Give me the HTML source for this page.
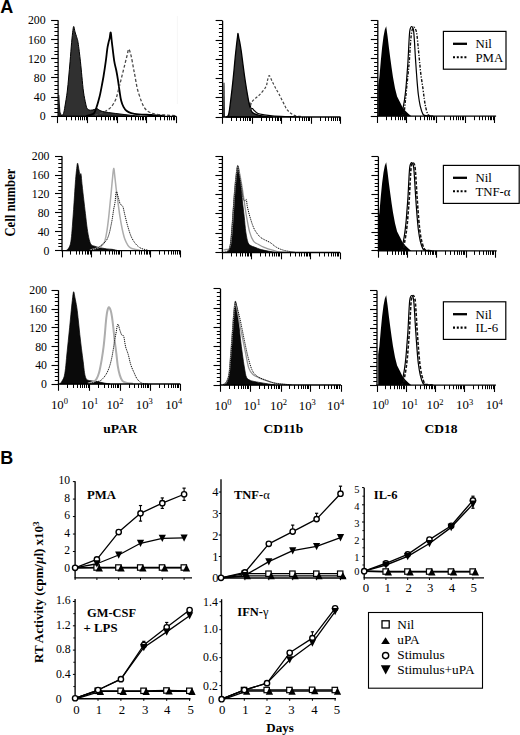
<!DOCTYPE html>
<html><head><meta charset="utf-8"><style>html,body{margin:0;padding:0;background:#fff;overflow:hidden}svg{display:block}</style></head>
<body><svg width="520" height="735" viewBox="0 0 520 735"><rect width="520" height="735" fill="#fff"/>
<text x="0.2" y="12.8" style="font-family:'Liberation Sans',sans-serif;font-size:18px;font-weight:bold" text-anchor="start" >A</text>
<text x="0.2" y="463.8" style="font-family:'Liberation Sans',sans-serif;font-size:18px;font-weight:bold" text-anchor="start" >B</text>
<text x="14.6" y="202.6" transform="rotate(-90 14.6 202.6)" style="font-family:'Liberation Serif',serif;font-size:14px;font-weight:bold" text-anchor="middle" textLength="68" lengthAdjust="spacingAndGlyphs">Cell number</text>
<line x1="177.4" y1="16" x2="177.4" y2="104" stroke="#f6f6f6" stroke-width="1" />
<polygon points="58.3,116.3 58.4,95 59.3,95 60.4,112 62,115.5 62,116.3" fill="#222"/>
<path d="M61,116.3 C61.42,115.83 62.83,115.22 63.5,113.5 C64.17,111.78 64.38,109.58 65,106 C65.62,102.42 66.58,96.83 67.2,92 C67.82,87.17 68.22,82.13 68.7,77 C69.18,71.87 69.62,66.92 70.1,61.2 C70.58,55.48 71.13,47.83 71.6,42.7 C72.07,37.57 72.53,33.1 72.9,30.4 C73.27,27.7 73.45,26.25 73.8,26.5 C74.15,26.75 74.55,30.23 75,31.9 C75.45,33.57 75.98,34.7 76.5,36.5 C77.02,38.3 77.45,38.58 78.1,42.7 C78.75,46.82 79.77,55.57 80.4,61.2 C81.03,66.83 81.38,71.37 81.9,76.5 C82.42,81.63 82.85,87.38 83.5,92 C84.15,96.62 85.17,101.4 85.8,104.2 C86.43,107 86.53,107.8 87.3,108.8 C88.07,109.8 89.28,110.07 90.4,110.2 C91.52,110.33 92.9,109.87 94,109.6 C95.1,109.33 96,108.43 97,108.6 C98,108.77 98.67,110.03 100,110.6 C101.33,111.17 103,111.6 105,112 C107,112.4 109.5,112.67 112,113 C114.5,113.33 117,113.63 120,114 C123,114.37 126.67,114.82 130,115.2 C133.33,115.58 138.33,116.12 140,116.3 Z" fill="#303030" stroke="#000" stroke-width="1.0" stroke-linejoin="round"/>
<path d="M86,115.8 C87.25,115.47 91.75,115.22 93.5,113.8 C95.25,112.38 95.48,110.18 96.5,107.3 C97.52,104.42 98.82,99.58 99.6,96.5 C100.38,93.42 100.55,92.13 101.2,88.8 C101.85,85.47 102.73,81.1 103.5,76.5 C104.27,71.9 105.17,65.82 105.8,61.2 C106.43,56.58 106.85,51.88 107.3,48.8 C107.75,45.72 108.12,44.42 108.5,42.7 C108.88,40.98 109.23,40.2 109.6,38.5 C109.97,36.8 110.32,31.87 110.7,32.5 C111.08,33.13 111.32,37.58 111.9,42.3 C112.48,47.02 113.43,55.93 114.2,60.8 C114.97,65.67 115.85,68.17 116.5,71.5 C117.15,74.83 117.58,77.47 118.1,80.8 C118.62,84.13 119.08,88.17 119.6,91.5 C120.12,94.83 120.55,98.23 121.2,100.8 C121.85,103.37 122.62,105.23 123.5,106.9 C124.38,108.57 125.22,109.77 126.5,110.8 C127.78,111.83 129.15,112.52 131.2,113.1 C133.25,113.68 135.47,113.98 138.8,114.3 C142.13,114.62 146.83,114.75 151.2,115 C155.57,115.25 162.7,115.67 165,115.8" fill="none" stroke="#000" stroke-width="1.8" stroke-linejoin="round" stroke-linecap="butt"/>
<path d="M95,115.5 C96.67,114.83 102.3,112.93 105,111.5 C107.7,110.07 109.4,108.95 111.2,106.9 C113,104.85 114.53,102.27 115.8,99.2 C117.07,96.13 117.78,92.33 118.8,88.5 C119.82,84.67 120.87,80.32 121.9,76.2 C122.93,72.08 124.1,67.4 125,63.8 C125.9,60.2 126.67,57.03 127.3,54.6 C127.93,52.17 128.15,48.93 128.8,49.2 C129.45,49.47 130.42,52.98 131.2,56.2 C131.98,59.42 132.87,65.17 133.5,68.5 C134.13,71.83 134.37,72.87 135,76.2 C135.63,79.53 136.27,84.4 137.3,88.5 C138.33,92.6 139.92,97.47 141.2,100.8 C142.48,104.13 143.6,106.58 145,108.5 C146.4,110.42 147.8,111.33 149.6,112.3 C151.4,113.27 152.98,113.83 155.8,114.3 C158.62,114.77 163.13,114.85 166.5,115.1 C169.87,115.35 174.42,115.68 176,115.8" fill="none" stroke="#4a4a4a" stroke-width="1.3" stroke-dasharray="3 2" stroke-linejoin="round" stroke-linecap="butt"/>
<line x1="58.1" y1="20.3" x2="58.1" y2="116.9" stroke="#000" stroke-width="1.3" />
<line x1="51.1" y1="116.5" x2="58.1" y2="116.5" stroke="#000" stroke-width="1.1" />
<line x1="54.4" y1="112.5" x2="58.1" y2="112.5" stroke="#000" stroke-width="1.0" />
<line x1="54.4" y1="108.5" x2="58.1" y2="108.5" stroke="#000" stroke-width="1.0" />
<line x1="54.4" y1="104.5" x2="58.1" y2="104.5" stroke="#000" stroke-width="1.0" />
<line x1="54.4" y1="100.5" x2="58.1" y2="100.5" stroke="#000" stroke-width="1.0" />
<line x1="51.1" y1="97.5" x2="58.1" y2="97.5" stroke="#000" stroke-width="1.1" />
<line x1="54.4" y1="93.5" x2="58.1" y2="93.5" stroke="#000" stroke-width="1.0" />
<line x1="54.4" y1="89.5" x2="58.1" y2="89.5" stroke="#000" stroke-width="1.0" />
<line x1="54.4" y1="85.5" x2="58.1" y2="85.5" stroke="#000" stroke-width="1.0" />
<line x1="54.4" y1="81.5" x2="58.1" y2="81.5" stroke="#000" stroke-width="1.0" />
<line x1="51.1" y1="77.5" x2="58.1" y2="77.5" stroke="#000" stroke-width="1.1" />
<line x1="54.4" y1="74.5" x2="58.1" y2="74.5" stroke="#000" stroke-width="1.0" />
<line x1="54.4" y1="70.5" x2="58.1" y2="70.5" stroke="#000" stroke-width="1.0" />
<line x1="54.4" y1="66.5" x2="58.1" y2="66.5" stroke="#000" stroke-width="1.0" />
<line x1="54.4" y1="62.5" x2="58.1" y2="62.5" stroke="#000" stroke-width="1.0" />
<line x1="51.1" y1="58.5" x2="58.1" y2="58.5" stroke="#000" stroke-width="1.1" />
<line x1="54.4" y1="54.5" x2="58.1" y2="54.5" stroke="#000" stroke-width="1.0" />
<line x1="54.4" y1="51.5" x2="58.1" y2="51.5" stroke="#000" stroke-width="1.0" />
<line x1="54.4" y1="47.5" x2="58.1" y2="47.5" stroke="#000" stroke-width="1.0" />
<line x1="54.4" y1="43.5" x2="58.1" y2="43.5" stroke="#000" stroke-width="1.0" />
<line x1="51.1" y1="39.5" x2="58.1" y2="39.5" stroke="#000" stroke-width="1.1" />
<line x1="54.4" y1="35.5" x2="58.1" y2="35.5" stroke="#000" stroke-width="1.0" />
<line x1="54.4" y1="31.5" x2="58.1" y2="31.5" stroke="#000" stroke-width="1.0" />
<line x1="54.4" y1="27.5" x2="58.1" y2="27.5" stroke="#000" stroke-width="1.0" />
<line x1="54.4" y1="24.5" x2="58.1" y2="24.5" stroke="#000" stroke-width="1.0" />
<line x1="51.1" y1="20.5" x2="58.1" y2="20.5" stroke="#000" stroke-width="1.1" />
<text x="45.6" y="120.4" style="font-family:'Liberation Serif',serif;font-size:11.8px;font-weight:normal" text-anchor="end" >0</text>
<text x="45.6" y="101.2" style="font-family:'Liberation Serif',serif;font-size:11.8px;font-weight:normal" text-anchor="end" >40</text>
<text x="45.6" y="82" style="font-family:'Liberation Serif',serif;font-size:11.8px;font-weight:normal" text-anchor="end" >80</text>
<text x="45.6" y="62.8" style="font-family:'Liberation Serif',serif;font-size:11.8px;font-weight:normal" text-anchor="end" >120</text>
<text x="45.6" y="43.6" style="font-family:'Liberation Serif',serif;font-size:11.8px;font-weight:normal" text-anchor="end" >160</text>
<text x="45.6" y="24.4" style="font-family:'Liberation Serif',serif;font-size:11.8px;font-weight:normal" text-anchor="end" >200</text>
<line x1="57.5" y1="116.3" x2="176.3" y2="116.3" stroke="#000" stroke-width="1.3" />
<line x1="57.5" y1="116.3" x2="57.5" y2="123.1" stroke="#000" stroke-width="1.1" />
<line x1="66.5" y1="116.3" x2="66.5" y2="120.3" stroke="#000" stroke-width="1.0" />
<line x1="71.5" y1="116.3" x2="71.5" y2="120.3" stroke="#000" stroke-width="1.0" />
<line x1="75.5" y1="116.3" x2="75.5" y2="120.3" stroke="#000" stroke-width="1.0" />
<line x1="78.5" y1="116.3" x2="78.5" y2="120.3" stroke="#000" stroke-width="1.0" />
<line x1="80.5" y1="116.3" x2="80.5" y2="120.3" stroke="#000" stroke-width="1.0" />
<line x1="82.5" y1="116.3" x2="82.5" y2="120.3" stroke="#000" stroke-width="1.0" />
<line x1="84.5" y1="116.3" x2="84.5" y2="120.3" stroke="#000" stroke-width="1.0" />
<line x1="86.5" y1="116.3" x2="86.5" y2="120.3" stroke="#000" stroke-width="1.0" />
<line x1="87.5" y1="116.3" x2="87.5" y2="123.1" stroke="#000" stroke-width="1.1" />
<line x1="96.5" y1="116.3" x2="96.5" y2="120.3" stroke="#000" stroke-width="1.0" />
<line x1="101.5" y1="116.3" x2="101.5" y2="120.3" stroke="#000" stroke-width="1.0" />
<line x1="105.5" y1="116.3" x2="105.5" y2="120.3" stroke="#000" stroke-width="1.0" />
<line x1="108.5" y1="116.3" x2="108.5" y2="120.3" stroke="#000" stroke-width="1.0" />
<line x1="110.5" y1="116.3" x2="110.5" y2="120.3" stroke="#000" stroke-width="1.0" />
<line x1="113.5" y1="116.3" x2="113.5" y2="120.3" stroke="#000" stroke-width="1.0" />
<line x1="114.5" y1="116.3" x2="114.5" y2="120.3" stroke="#000" stroke-width="1.0" />
<line x1="116.5" y1="116.3" x2="116.5" y2="120.3" stroke="#000" stroke-width="1.0" />
<line x1="117.5" y1="116.3" x2="117.5" y2="123.1" stroke="#000" stroke-width="1.1" />
<line x1="126.5" y1="116.3" x2="126.5" y2="120.3" stroke="#000" stroke-width="1.0" />
<line x1="131.5" y1="116.3" x2="131.5" y2="120.3" stroke="#000" stroke-width="1.0" />
<line x1="135.5" y1="116.3" x2="135.5" y2="120.3" stroke="#000" stroke-width="1.0" />
<line x1="138.5" y1="116.3" x2="138.5" y2="120.3" stroke="#000" stroke-width="1.0" />
<line x1="140.5" y1="116.3" x2="140.5" y2="120.3" stroke="#000" stroke-width="1.0" />
<line x1="142.5" y1="116.3" x2="142.5" y2="120.3" stroke="#000" stroke-width="1.0" />
<line x1="143.5" y1="116.3" x2="143.5" y2="120.3" stroke="#000" stroke-width="1.0" />
<line x1="145.5" y1="116.3" x2="145.5" y2="120.3" stroke="#000" stroke-width="1.0" />
<line x1="146.5" y1="116.3" x2="146.5" y2="123.1" stroke="#000" stroke-width="1.1" />
<line x1="155.5" y1="116.3" x2="155.5" y2="120.3" stroke="#000" stroke-width="1.0" />
<line x1="160.5" y1="116.3" x2="160.5" y2="120.3" stroke="#000" stroke-width="1.0" />
<line x1="164.5" y1="116.3" x2="164.5" y2="120.3" stroke="#000" stroke-width="1.0" />
<line x1="167.5" y1="116.3" x2="167.5" y2="120.3" stroke="#000" stroke-width="1.0" />
<line x1="169.5" y1="116.3" x2="169.5" y2="120.3" stroke="#000" stroke-width="1.0" />
<line x1="171.5" y1="116.3" x2="171.5" y2="120.3" stroke="#000" stroke-width="1.0" />
<line x1="173.5" y1="116.3" x2="173.5" y2="120.3" stroke="#000" stroke-width="1.0" />
<line x1="174.5" y1="116.3" x2="174.5" y2="120.3" stroke="#000" stroke-width="1.0" />
<line x1="176.5" y1="116.3" x2="176.5" y2="123.1" stroke="#000" stroke-width="1.1" />
<polygon points="223.2,117 223.5,82.8 224.5,82.8 224.9,117" fill="#111"/>
<path d="M226,117 C226.38,116.73 227.7,116.73 228.3,115.4 C228.9,114.07 229.12,112.22 229.6,109 C230.08,105.78 230.68,100.42 231.2,96.1 C231.72,91.78 232.23,87.42 232.7,83.1 C233.17,78.78 233.58,74.5 234,70.2 C234.42,65.9 234.77,61.6 235.2,57.3 C235.63,53 236.22,47.78 236.6,44.4 C236.98,41.02 237.27,38.83 237.5,37 C237.73,35.17 237.78,33.23 238,33.4 C238.22,33.57 238.52,36.6 238.8,38 C239.08,39.4 239.3,39.67 239.7,41.8 C240.1,43.93 240.67,47.13 241.2,50.8 C241.73,54.47 242.33,59.48 242.9,63.8 C243.47,68.12 243.98,72.4 244.6,76.7 C245.22,81 245.88,85.3 246.6,89.6 C247.32,93.9 248.25,99.27 248.9,102.5 C249.55,105.73 249.83,107.27 250.5,109 C251.17,110.73 251.43,111.83 252.9,112.9 C254.37,113.97 256.95,114.77 259.3,115.4 C261.65,116.03 264.88,116.43 267,116.7 C269.12,116.97 271.17,116.95 272,117 Z" fill="#333" stroke="#000" stroke-width="1.3" stroke-linejoin="round"/>
<path d="M249.7,102.5 C249.92,103.52 250.53,107.58 251,108.6 C251.47,109.62 251.92,108.23 252.5,108.6 C253.08,108.97 253.58,109.98 254.5,110.8 C255.42,111.62 256.42,112.83 258,113.5 C259.58,114.17 261.67,114.42 264,114.8 C266.33,115.18 268.5,115.52 272,115.8 C275.5,116.08 280.33,116.3 285,116.5 C289.67,116.7 297.5,116.92 300,117" fill="none" stroke="#000" stroke-width="1.2" stroke-linejoin="round" stroke-linecap="butt"/>
<path d="M250,110 C250.2,108.88 250.43,105.15 251.2,103.3 C251.97,101.45 253.17,100.35 254.6,98.9 C256.03,97.45 257.92,96.62 259.8,94.6 C261.68,92.58 264.6,89.23 265.9,86.8 C267.2,84.37 267.03,81.87 267.6,80 C268.17,78.13 268.58,75.47 269.3,75.6 C270.02,75.73 270.88,78.78 271.9,80.8 C272.92,82.82 274.25,85.55 275.4,87.7 C276.55,89.85 277.5,91.25 278.8,93.7 C280.1,96.15 281.75,99.65 283.2,102.4 C284.65,105.15 285.63,108.03 287.5,110.2 C289.37,112.37 291.98,114.33 294.4,115.4 C296.82,116.47 300.73,116.4 302,116.6" fill="none" stroke="#444" stroke-width="1.2" stroke-dasharray="2.6 1.8" stroke-linejoin="round" stroke-linecap="butt"/>
<line x1="222.6" y1="20.8" x2="222.6" y2="117.6" stroke="#000" stroke-width="1.3" />
<line x1="215.6" y1="117.5" x2="222.6" y2="117.5" stroke="#000" stroke-width="1.1" />
<line x1="218.9" y1="113.5" x2="222.6" y2="113.5" stroke="#000" stroke-width="1.0" />
<line x1="218.9" y1="109.5" x2="222.6" y2="109.5" stroke="#000" stroke-width="1.0" />
<line x1="218.9" y1="105.5" x2="222.6" y2="105.5" stroke="#000" stroke-width="1.0" />
<line x1="218.9" y1="101.5" x2="222.6" y2="101.5" stroke="#000" stroke-width="1.0" />
<line x1="215.6" y1="97.5" x2="222.6" y2="97.5" stroke="#000" stroke-width="1.1" />
<line x1="218.9" y1="93.5" x2="222.6" y2="93.5" stroke="#000" stroke-width="1.0" />
<line x1="218.9" y1="90.5" x2="222.6" y2="90.5" stroke="#000" stroke-width="1.0" />
<line x1="218.9" y1="86.5" x2="222.6" y2="86.5" stroke="#000" stroke-width="1.0" />
<line x1="218.9" y1="82.5" x2="222.6" y2="82.5" stroke="#000" stroke-width="1.0" />
<line x1="215.6" y1="78.5" x2="222.6" y2="78.5" stroke="#000" stroke-width="1.1" />
<line x1="218.9" y1="74.5" x2="222.6" y2="74.5" stroke="#000" stroke-width="1.0" />
<line x1="218.9" y1="70.5" x2="222.6" y2="70.5" stroke="#000" stroke-width="1.0" />
<line x1="218.9" y1="66.5" x2="222.6" y2="66.5" stroke="#000" stroke-width="1.0" />
<line x1="218.9" y1="63.5" x2="222.6" y2="63.5" stroke="#000" stroke-width="1.0" />
<line x1="215.6" y1="59.5" x2="222.6" y2="59.5" stroke="#000" stroke-width="1.1" />
<line x1="218.9" y1="55.5" x2="222.6" y2="55.5" stroke="#000" stroke-width="1.0" />
<line x1="218.9" y1="51.5" x2="222.6" y2="51.5" stroke="#000" stroke-width="1.0" />
<line x1="218.9" y1="47.5" x2="222.6" y2="47.5" stroke="#000" stroke-width="1.0" />
<line x1="218.9" y1="43.5" x2="222.6" y2="43.5" stroke="#000" stroke-width="1.0" />
<line x1="215.6" y1="40.5" x2="222.6" y2="40.5" stroke="#000" stroke-width="1.1" />
<line x1="218.9" y1="36.5" x2="222.6" y2="36.5" stroke="#000" stroke-width="1.0" />
<line x1="218.9" y1="32.5" x2="222.6" y2="32.5" stroke="#000" stroke-width="1.0" />
<line x1="218.9" y1="28.5" x2="222.6" y2="28.5" stroke="#000" stroke-width="1.0" />
<line x1="218.9" y1="24.5" x2="222.6" y2="24.5" stroke="#000" stroke-width="1.0" />
<line x1="215.6" y1="20.5" x2="222.6" y2="20.5" stroke="#000" stroke-width="1.1" />
<line x1="222" y1="117" x2="340.5" y2="117" stroke="#000" stroke-width="1.3" />
<line x1="222.5" y1="117" x2="222.5" y2="123.8" stroke="#000" stroke-width="1.1" />
<line x1="231.5" y1="117" x2="231.5" y2="121" stroke="#000" stroke-width="1.0" />
<line x1="236.5" y1="117" x2="236.5" y2="121" stroke="#000" stroke-width="1.0" />
<line x1="240.5" y1="117" x2="240.5" y2="121" stroke="#000" stroke-width="1.0" />
<line x1="243.5" y1="117" x2="243.5" y2="121" stroke="#000" stroke-width="1.0" />
<line x1="245.5" y1="117" x2="245.5" y2="121" stroke="#000" stroke-width="1.0" />
<line x1="247.5" y1="117" x2="247.5" y2="121" stroke="#000" stroke-width="1.0" />
<line x1="249.5" y1="117" x2="249.5" y2="121" stroke="#000" stroke-width="1.0" />
<line x1="250.5" y1="117" x2="250.5" y2="121" stroke="#000" stroke-width="1.0" />
<line x1="252.5" y1="117" x2="252.5" y2="123.8" stroke="#000" stroke-width="1.1" />
<line x1="261.5" y1="117" x2="261.5" y2="121" stroke="#000" stroke-width="1.0" />
<line x1="266.5" y1="117" x2="266.5" y2="121" stroke="#000" stroke-width="1.0" />
<line x1="269.5" y1="117" x2="269.5" y2="121" stroke="#000" stroke-width="1.0" />
<line x1="272.5" y1="117" x2="272.5" y2="121" stroke="#000" stroke-width="1.0" />
<line x1="275.5" y1="117" x2="275.5" y2="121" stroke="#000" stroke-width="1.0" />
<line x1="277.5" y1="117" x2="277.5" y2="121" stroke="#000" stroke-width="1.0" />
<line x1="278.5" y1="117" x2="278.5" y2="121" stroke="#000" stroke-width="1.0" />
<line x1="280.5" y1="117" x2="280.5" y2="121" stroke="#000" stroke-width="1.0" />
<line x1="281.5" y1="117" x2="281.5" y2="123.8" stroke="#000" stroke-width="1.1" />
<line x1="290.5" y1="117" x2="290.5" y2="121" stroke="#000" stroke-width="1.0" />
<line x1="295.5" y1="117" x2="295.5" y2="121" stroke="#000" stroke-width="1.0" />
<line x1="299.5" y1="117" x2="299.5" y2="121" stroke="#000" stroke-width="1.0" />
<line x1="302.5" y1="117" x2="302.5" y2="121" stroke="#000" stroke-width="1.0" />
<line x1="304.5" y1="117" x2="304.5" y2="121" stroke="#000" stroke-width="1.0" />
<line x1="306.5" y1="117" x2="306.5" y2="121" stroke="#000" stroke-width="1.0" />
<line x1="308.5" y1="117" x2="308.5" y2="121" stroke="#000" stroke-width="1.0" />
<line x1="309.5" y1="117" x2="309.5" y2="121" stroke="#000" stroke-width="1.0" />
<line x1="311.5" y1="117" x2="311.5" y2="123.8" stroke="#000" stroke-width="1.1" />
<line x1="320.5" y1="117" x2="320.5" y2="121" stroke="#000" stroke-width="1.0" />
<line x1="325.5" y1="117" x2="325.5" y2="121" stroke="#000" stroke-width="1.0" />
<line x1="328.5" y1="117" x2="328.5" y2="121" stroke="#000" stroke-width="1.0" />
<line x1="331.5" y1="117" x2="331.5" y2="121" stroke="#000" stroke-width="1.0" />
<line x1="333.5" y1="117" x2="333.5" y2="121" stroke="#000" stroke-width="1.0" />
<line x1="335.5" y1="117" x2="335.5" y2="121" stroke="#000" stroke-width="1.0" />
<line x1="337.5" y1="117" x2="337.5" y2="121" stroke="#000" stroke-width="1.0" />
<line x1="339.5" y1="117" x2="339.5" y2="121" stroke="#000" stroke-width="1.0" />
<line x1="340.5" y1="117" x2="340.5" y2="123.8" stroke="#000" stroke-width="1.1" />
<polygon points="378.2,116.2 378.2,85.5 379.4,77.3 380.8,61 382.1,47.4 383.5,36.5 384.8,29.7 386.2,26.3 387.6,36.5 388.9,47.4 390.3,58.3 391.6,67.8 393,77.3 395,88.2 397.1,96.4 399.8,101.8 402.5,107.3 405.3,110.7 408.7,114.1 411.4,116.2" fill="#000"/>
<path d="M399,116.2 C399.48,115.85 401.2,115.58 401.9,114.1 C402.6,112.62 402.75,109.8 403.2,107.3 C403.65,104.8 404.15,102.28 404.6,99.1 C405.05,95.92 405.5,92.28 405.9,88.2 C406.3,84.12 406.65,79.13 407,74.6 C407.35,70.07 407.72,65.53 408,61 C408.28,56.47 408.48,51.48 408.7,47.4 C408.92,43.32 409.08,39.45 409.3,36.5 C409.52,33.55 409.62,31.37 410,29.7 C410.38,28.03 411.03,26.5 411.6,26.5 C412.17,26.5 412.93,27.35 413.4,29.7 C413.87,32.05 414.1,36.52 414.4,40.6 C414.7,44.68 414.92,49.67 415.2,54.2 C415.48,58.73 415.78,63.27 416.1,67.8 C416.42,72.33 416.72,76.87 417.1,81.4 C417.48,85.93 417.88,90.92 418.4,95 C418.92,99.08 419.45,102.72 420.2,105.9 C420.95,109.08 421.98,112.48 422.9,114.1 C423.82,115.72 424.18,115.25 425.7,115.6 C427.22,115.95 430.95,116.1 432,116.2" fill="none" stroke="#000" stroke-width="1.2" stroke-linejoin="round" stroke-linecap="butt"/>
<path d="M401,116.2 C401.48,115.62 403.18,115.1 403.9,112.7 C404.62,110.3 404.85,105.88 405.3,101.8 C405.75,97.72 406.15,92.73 406.6,88.2 C407.05,83.67 407.55,79.13 408,74.6 C408.45,70.07 408.85,66.67 409.3,61 C409.75,55.33 410.25,45.65 410.7,40.6 C411.15,35.55 411.48,32.93 412,30.7 C412.52,28.47 413.22,27.45 413.8,27.2 C414.38,26.95 415,28.1 415.5,29.2 C416,30.3 416.35,30.77 416.8,33.8 C417.25,36.83 417.75,42.87 418.2,47.4 C418.65,51.93 419.05,56.47 419.5,61 C419.95,65.53 420.33,70.07 420.9,74.6 C421.47,79.13 422.33,84.12 422.9,88.2 C423.47,92.28 423.83,95.92 424.3,99.1 C424.77,102.28 425.13,104.8 425.7,107.3 C426.27,109.8 427.03,112.72 427.7,114.1 C428.37,115.48 428.65,115.25 429.7,115.6 C430.75,115.95 433.28,116.1 434,116.2" fill="none" stroke="#111" stroke-width="1.4" stroke-dasharray="3 1.5 1.2 1.5" stroke-linejoin="round" stroke-linecap="butt"/>
<line x1="377.8" y1="20.2" x2="377.8" y2="116.8" stroke="#000" stroke-width="1.3" />
<line x1="370.8" y1="116.5" x2="377.8" y2="116.5" stroke="#000" stroke-width="1.1" />
<line x1="374.1" y1="112.5" x2="377.8" y2="112.5" stroke="#000" stroke-width="1.0" />
<line x1="374.1" y1="108.5" x2="377.8" y2="108.5" stroke="#000" stroke-width="1.0" />
<line x1="374.1" y1="104.5" x2="377.8" y2="104.5" stroke="#000" stroke-width="1.0" />
<line x1="374.1" y1="100.5" x2="377.8" y2="100.5" stroke="#000" stroke-width="1.0" />
<line x1="370.8" y1="97.5" x2="377.8" y2="97.5" stroke="#000" stroke-width="1.1" />
<line x1="374.1" y1="93.5" x2="377.8" y2="93.5" stroke="#000" stroke-width="1.0" />
<line x1="374.1" y1="89.5" x2="377.8" y2="89.5" stroke="#000" stroke-width="1.0" />
<line x1="374.1" y1="85.5" x2="377.8" y2="85.5" stroke="#000" stroke-width="1.0" />
<line x1="374.1" y1="81.5" x2="377.8" y2="81.5" stroke="#000" stroke-width="1.0" />
<line x1="370.8" y1="77.5" x2="377.8" y2="77.5" stroke="#000" stroke-width="1.1" />
<line x1="374.1" y1="73.5" x2="377.8" y2="73.5" stroke="#000" stroke-width="1.0" />
<line x1="374.1" y1="70.5" x2="377.8" y2="70.5" stroke="#000" stroke-width="1.0" />
<line x1="374.1" y1="66.5" x2="377.8" y2="66.5" stroke="#000" stroke-width="1.0" />
<line x1="374.1" y1="62.5" x2="377.8" y2="62.5" stroke="#000" stroke-width="1.0" />
<line x1="370.8" y1="58.5" x2="377.8" y2="58.5" stroke="#000" stroke-width="1.1" />
<line x1="374.1" y1="54.5" x2="377.8" y2="54.5" stroke="#000" stroke-width="1.0" />
<line x1="374.1" y1="50.5" x2="377.8" y2="50.5" stroke="#000" stroke-width="1.0" />
<line x1="374.1" y1="47.5" x2="377.8" y2="47.5" stroke="#000" stroke-width="1.0" />
<line x1="374.1" y1="43.5" x2="377.8" y2="43.5" stroke="#000" stroke-width="1.0" />
<line x1="370.8" y1="39.5" x2="377.8" y2="39.5" stroke="#000" stroke-width="1.1" />
<line x1="374.1" y1="35.5" x2="377.8" y2="35.5" stroke="#000" stroke-width="1.0" />
<line x1="374.1" y1="31.5" x2="377.8" y2="31.5" stroke="#000" stroke-width="1.0" />
<line x1="374.1" y1="27.5" x2="377.8" y2="27.5" stroke="#000" stroke-width="1.0" />
<line x1="374.1" y1="24.5" x2="377.8" y2="24.5" stroke="#000" stroke-width="1.0" />
<line x1="370.8" y1="20.5" x2="377.8" y2="20.5" stroke="#000" stroke-width="1.1" />
<line x1="377.2" y1="116.2" x2="496.1" y2="116.2" stroke="#000" stroke-width="1.3" />
<line x1="377.5" y1="116.2" x2="377.5" y2="123" stroke="#000" stroke-width="1.1" />
<line x1="386.5" y1="116.2" x2="386.5" y2="120.2" stroke="#000" stroke-width="1.0" />
<line x1="391.5" y1="116.2" x2="391.5" y2="120.2" stroke="#000" stroke-width="1.0" />
<line x1="395.5" y1="116.2" x2="395.5" y2="120.2" stroke="#000" stroke-width="1.0" />
<line x1="398.5" y1="116.2" x2="398.5" y2="120.2" stroke="#000" stroke-width="1.0" />
<line x1="400.5" y1="116.2" x2="400.5" y2="120.2" stroke="#000" stroke-width="1.0" />
<line x1="402.5" y1="116.2" x2="402.5" y2="120.2" stroke="#000" stroke-width="1.0" />
<line x1="404.5" y1="116.2" x2="404.5" y2="120.2" stroke="#000" stroke-width="1.0" />
<line x1="405.5" y1="116.2" x2="405.5" y2="120.2" stroke="#000" stroke-width="1.0" />
<line x1="406.5" y1="116.2" x2="406.5" y2="123" stroke="#000" stroke-width="1.1" />
<line x1="415.5" y1="116.2" x2="415.5" y2="120.2" stroke="#000" stroke-width="1.0" />
<line x1="420.5" y1="116.2" x2="420.5" y2="120.2" stroke="#000" stroke-width="1.0" />
<line x1="424.5" y1="116.2" x2="424.5" y2="120.2" stroke="#000" stroke-width="1.0" />
<line x1="427.5" y1="116.2" x2="427.5" y2="120.2" stroke="#000" stroke-width="1.0" />
<line x1="429.5" y1="116.2" x2="429.5" y2="120.2" stroke="#000" stroke-width="1.0" />
<line x1="431.5" y1="116.2" x2="431.5" y2="120.2" stroke="#000" stroke-width="1.0" />
<line x1="433.5" y1="116.2" x2="433.5" y2="120.2" stroke="#000" stroke-width="1.0" />
<line x1="434.5" y1="116.2" x2="434.5" y2="120.2" stroke="#000" stroke-width="1.0" />
<line x1="436.5" y1="116.2" x2="436.5" y2="123" stroke="#000" stroke-width="1.1" />
<line x1="444.5" y1="116.2" x2="444.5" y2="120.2" stroke="#000" stroke-width="1.0" />
<line x1="450.5" y1="116.2" x2="450.5" y2="120.2" stroke="#000" stroke-width="1.0" />
<line x1="453.5" y1="116.2" x2="453.5" y2="120.2" stroke="#000" stroke-width="1.0" />
<line x1="456.5" y1="116.2" x2="456.5" y2="120.2" stroke="#000" stroke-width="1.0" />
<line x1="458.5" y1="116.2" x2="458.5" y2="120.2" stroke="#000" stroke-width="1.0" />
<line x1="460.5" y1="116.2" x2="460.5" y2="120.2" stroke="#000" stroke-width="1.0" />
<line x1="462.5" y1="116.2" x2="462.5" y2="120.2" stroke="#000" stroke-width="1.0" />
<line x1="463.5" y1="116.2" x2="463.5" y2="120.2" stroke="#000" stroke-width="1.0" />
<line x1="465.5" y1="116.2" x2="465.5" y2="123" stroke="#000" stroke-width="1.1" />
<line x1="474.5" y1="116.2" x2="474.5" y2="120.2" stroke="#000" stroke-width="1.0" />
<line x1="479.5" y1="116.2" x2="479.5" y2="120.2" stroke="#000" stroke-width="1.0" />
<line x1="482.5" y1="116.2" x2="482.5" y2="120.2" stroke="#000" stroke-width="1.0" />
<line x1="485.5" y1="116.2" x2="485.5" y2="120.2" stroke="#000" stroke-width="1.0" />
<line x1="488.5" y1="116.2" x2="488.5" y2="120.2" stroke="#000" stroke-width="1.0" />
<line x1="490.5" y1="116.2" x2="490.5" y2="120.2" stroke="#000" stroke-width="1.0" />
<line x1="491.5" y1="116.2" x2="491.5" y2="120.2" stroke="#000" stroke-width="1.0" />
<line x1="493.5" y1="116.2" x2="493.5" y2="120.2" stroke="#000" stroke-width="1.0" />
<line x1="494.5" y1="116.2" x2="494.5" y2="123" stroke="#000" stroke-width="1.1" />
<rect x="443.4" y="31.4" width="62.6" height="37.8" fill="#fff" stroke="#000" stroke-width="1.2"/>
<line x1="453" y1="43.8" x2="467" y2="43.8" stroke="#000" stroke-width="2.3" />
<line x1="453" y1="57.2" x2="467" y2="57.2" stroke="#000" stroke-width="2.1" stroke-dasharray="2 1.8"/>
<text x="475.4" y="48.3" style="font-family:'Liberation Serif',serif;font-size:12.8px;font-weight:normal" text-anchor="start" >Nil</text>
<text x="475.4" y="61.7" style="font-family:'Liberation Serif',serif;font-size:12.8px;font-weight:normal" text-anchor="start" >PMA</text>
<path d="M66,250.6 C66.35,250.32 67.4,249.87 68.1,248.9 C68.8,247.93 69.63,246.85 70.2,244.8 C70.77,242.75 71.1,240.23 71.5,236.6 C71.9,232.97 72.25,227.53 72.6,223 C72.95,218.47 73.28,213.93 73.6,209.4 C73.92,204.87 74.17,200.78 74.5,195.8 C74.83,190.82 75.23,184.03 75.6,179.5 C75.97,174.97 76.37,171.32 76.7,168.6 C77.03,165.88 77.22,162.97 77.6,163.2 C77.98,163.43 78.6,167.97 79,170 C79.4,172.03 79.67,174.73 80,175.4 C80.33,176.07 80.65,172.42 81,174 C81.35,175.58 81.63,180.58 82.1,184.9 C82.57,189.22 83.25,195.13 83.8,199.9 C84.35,204.67 84.83,208.73 85.4,213.5 C85.97,218.27 86.57,224.18 87.2,228.5 C87.83,232.82 88.52,236.68 89.2,239.4 C89.88,242.12 90.38,243.67 91.3,244.8 C92.22,245.93 93.47,245.75 94.7,246.2 C95.93,246.65 97.35,247.17 98.7,247.5 C100.05,247.83 101.43,247.97 102.8,248.2 C104.17,248.43 105.37,248.72 106.9,248.9 C108.43,249.08 110.15,249.02 112,249.3 C113.85,249.58 117,250.38 118,250.6 Z" fill="#0c0c0c" stroke="#000" stroke-width="0.7" stroke-linejoin="round"/>
<path d="M90,250.3 C91.27,249.9 95.68,248.63 97.6,247.9 C99.52,247.17 100.32,246.98 101.5,245.9 C102.68,244.82 103.8,243.87 104.7,241.4 C105.6,238.93 106.25,234.98 106.9,231.1 C107.55,227.22 108.1,222.42 108.6,218.1 C109.1,213.78 109.47,209.5 109.9,205.2 C110.33,200.9 110.78,196.6 111.2,192.3 C111.62,188 111.98,183.38 112.4,179.4 C112.82,175.42 113.27,168.62 113.7,168.4 C114.13,168.18 114.57,174.55 115,178.1 C115.43,181.65 115.8,185.62 116.3,189.7 C116.8,193.78 117.42,198.28 118,202.6 C118.58,206.92 119.12,211.28 119.8,215.6 C120.48,219.92 121.28,224.63 122.1,228.5 C122.92,232.37 123.73,236 124.7,238.8 C125.67,241.6 126.93,243.78 127.9,245.3 C128.87,246.82 129.52,247.27 130.5,247.9 C131.48,248.53 132.22,248.7 133.8,249.1 C135.38,249.5 138.97,250.1 140,250.3" fill="none" stroke="#adadad" stroke-width="1.5" stroke-linejoin="round" stroke-linecap="butt"/>
<path d="M90,250.3 C91.27,249.9 95.47,248.95 97.6,247.9 C99.73,246.85 101.3,245.3 102.8,244 C104.3,242.7 105.53,241.83 106.6,240.1 C107.67,238.37 108.43,236.18 109.2,233.6 C109.97,231.02 110.67,227.18 111.2,224.6 C111.73,222.02 111.98,220.68 112.4,218.1 C112.82,215.52 113.27,211.68 113.7,209.1 C114.13,206.52 114.57,205.5 115,202.6 C115.43,199.7 115.75,192.55 116.3,191.7 C116.85,190.85 117.65,195.47 118.3,197.5 C118.95,199.53 119.45,202.4 120.2,203.9 C120.95,205.4 122.05,204.77 122.8,206.5 C123.55,208.23 123.95,211.28 124.7,214.3 C125.45,217.32 126.33,221.17 127.3,224.6 C128.27,228.03 129.42,232.1 130.5,234.9 C131.58,237.7 132.62,239.57 133.8,241.4 C134.98,243.23 136.32,244.72 137.6,245.9 C138.88,247.08 139.77,247.78 141.5,248.5 C143.23,249.22 146.92,249.92 148,250.2" fill="none" stroke="#111" stroke-width="1.0" stroke-dasharray="1.2 0.8" stroke-linejoin="round" stroke-linecap="butt"/>
<line x1="62" y1="156.2" x2="62" y2="251.2" stroke="#000" stroke-width="1.3" />
<line x1="55" y1="250.5" x2="62" y2="250.5" stroke="#000" stroke-width="1.1" />
<line x1="58.3" y1="246.5" x2="62" y2="246.5" stroke="#000" stroke-width="1.0" />
<line x1="58.3" y1="243.5" x2="62" y2="243.5" stroke="#000" stroke-width="1.0" />
<line x1="58.3" y1="239.5" x2="62" y2="239.5" stroke="#000" stroke-width="1.0" />
<line x1="58.3" y1="235.5" x2="62" y2="235.5" stroke="#000" stroke-width="1.0" />
<line x1="55" y1="231.5" x2="62" y2="231.5" stroke="#000" stroke-width="1.1" />
<line x1="58.3" y1="227.5" x2="62" y2="227.5" stroke="#000" stroke-width="1.0" />
<line x1="58.3" y1="224.5" x2="62" y2="224.5" stroke="#000" stroke-width="1.0" />
<line x1="58.3" y1="220.5" x2="62" y2="220.5" stroke="#000" stroke-width="1.0" />
<line x1="58.3" y1="216.5" x2="62" y2="216.5" stroke="#000" stroke-width="1.0" />
<line x1="55" y1="212.5" x2="62" y2="212.5" stroke="#000" stroke-width="1.1" />
<line x1="58.3" y1="209.5" x2="62" y2="209.5" stroke="#000" stroke-width="1.0" />
<line x1="58.3" y1="205.5" x2="62" y2="205.5" stroke="#000" stroke-width="1.0" />
<line x1="58.3" y1="201.5" x2="62" y2="201.5" stroke="#000" stroke-width="1.0" />
<line x1="58.3" y1="197.5" x2="62" y2="197.5" stroke="#000" stroke-width="1.0" />
<line x1="55" y1="193.5" x2="62" y2="193.5" stroke="#000" stroke-width="1.1" />
<line x1="58.3" y1="190.5" x2="62" y2="190.5" stroke="#000" stroke-width="1.0" />
<line x1="58.3" y1="186.5" x2="62" y2="186.5" stroke="#000" stroke-width="1.0" />
<line x1="58.3" y1="182.5" x2="62" y2="182.5" stroke="#000" stroke-width="1.0" />
<line x1="58.3" y1="178.5" x2="62" y2="178.5" stroke="#000" stroke-width="1.0" />
<line x1="55" y1="175.5" x2="62" y2="175.5" stroke="#000" stroke-width="1.1" />
<line x1="58.3" y1="171.5" x2="62" y2="171.5" stroke="#000" stroke-width="1.0" />
<line x1="58.3" y1="167.5" x2="62" y2="167.5" stroke="#000" stroke-width="1.0" />
<line x1="58.3" y1="163.5" x2="62" y2="163.5" stroke="#000" stroke-width="1.0" />
<line x1="58.3" y1="159.5" x2="62" y2="159.5" stroke="#000" stroke-width="1.0" />
<line x1="55" y1="156.5" x2="62" y2="156.5" stroke="#000" stroke-width="1.1" />
<text x="49.5" y="254.7" style="font-family:'Liberation Serif',serif;font-size:11.8px;font-weight:normal" text-anchor="end" >0</text>
<text x="49.5" y="235.82" style="font-family:'Liberation Serif',serif;font-size:11.8px;font-weight:normal" text-anchor="end" >40</text>
<text x="49.5" y="216.94" style="font-family:'Liberation Serif',serif;font-size:11.8px;font-weight:normal" text-anchor="end" >80</text>
<text x="49.5" y="198.06" style="font-family:'Liberation Serif',serif;font-size:11.8px;font-weight:normal" text-anchor="end" >120</text>
<text x="49.5" y="179.18" style="font-family:'Liberation Serif',serif;font-size:11.8px;font-weight:normal" text-anchor="end" >160</text>
<text x="49.5" y="160.3" style="font-family:'Liberation Serif',serif;font-size:11.8px;font-weight:normal" text-anchor="end" >200</text>
<line x1="61.4" y1="250.6" x2="180.4" y2="250.6" stroke="#000" stroke-width="1.3" />
<line x1="62.5" y1="250.6" x2="62.5" y2="257.4" stroke="#000" stroke-width="1.1" />
<line x1="70.5" y1="250.6" x2="70.5" y2="254.6" stroke="#000" stroke-width="1.0" />
<line x1="76.5" y1="250.6" x2="76.5" y2="254.6" stroke="#000" stroke-width="1.0" />
<line x1="79.5" y1="250.6" x2="79.5" y2="254.6" stroke="#000" stroke-width="1.0" />
<line x1="82.5" y1="250.6" x2="82.5" y2="254.6" stroke="#000" stroke-width="1.0" />
<line x1="85.5" y1="250.6" x2="85.5" y2="254.6" stroke="#000" stroke-width="1.0" />
<line x1="87.5" y1="250.6" x2="87.5" y2="254.6" stroke="#000" stroke-width="1.0" />
<line x1="88.5" y1="250.6" x2="88.5" y2="254.6" stroke="#000" stroke-width="1.0" />
<line x1="90.5" y1="250.6" x2="90.5" y2="254.6" stroke="#000" stroke-width="1.0" />
<line x1="91.5" y1="250.6" x2="91.5" y2="257.4" stroke="#000" stroke-width="1.1" />
<line x1="100.5" y1="250.6" x2="100.5" y2="254.6" stroke="#000" stroke-width="1.0" />
<line x1="105.5" y1="250.6" x2="105.5" y2="254.6" stroke="#000" stroke-width="1.0" />
<line x1="109.5" y1="250.6" x2="109.5" y2="254.6" stroke="#000" stroke-width="1.0" />
<line x1="112.5" y1="250.6" x2="112.5" y2="254.6" stroke="#000" stroke-width="1.0" />
<line x1="114.5" y1="250.6" x2="114.5" y2="254.6" stroke="#000" stroke-width="1.0" />
<line x1="116.5" y1="250.6" x2="116.5" y2="254.6" stroke="#000" stroke-width="1.0" />
<line x1="118.5" y1="250.6" x2="118.5" y2="254.6" stroke="#000" stroke-width="1.0" />
<line x1="119.5" y1="250.6" x2="119.5" y2="254.6" stroke="#000" stroke-width="1.0" />
<line x1="121.5" y1="250.6" x2="121.5" y2="257.4" stroke="#000" stroke-width="1.1" />
<line x1="130.5" y1="250.6" x2="130.5" y2="254.6" stroke="#000" stroke-width="1.0" />
<line x1="135.5" y1="250.6" x2="135.5" y2="254.6" stroke="#000" stroke-width="1.0" />
<line x1="139.5" y1="250.6" x2="139.5" y2="254.6" stroke="#000" stroke-width="1.0" />
<line x1="141.5" y1="250.6" x2="141.5" y2="254.6" stroke="#000" stroke-width="1.0" />
<line x1="144.5" y1="250.6" x2="144.5" y2="254.6" stroke="#000" stroke-width="1.0" />
<line x1="146.5" y1="250.6" x2="146.5" y2="254.6" stroke="#000" stroke-width="1.0" />
<line x1="147.5" y1="250.6" x2="147.5" y2="254.6" stroke="#000" stroke-width="1.0" />
<line x1="149.5" y1="250.6" x2="149.5" y2="254.6" stroke="#000" stroke-width="1.0" />
<line x1="150.5" y1="250.6" x2="150.5" y2="257.4" stroke="#000" stroke-width="1.1" />
<line x1="159.5" y1="250.6" x2="159.5" y2="254.6" stroke="#000" stroke-width="1.0" />
<line x1="164.5" y1="250.6" x2="164.5" y2="254.6" stroke="#000" stroke-width="1.0" />
<line x1="168.5" y1="250.6" x2="168.5" y2="254.6" stroke="#000" stroke-width="1.0" />
<line x1="171.5" y1="250.6" x2="171.5" y2="254.6" stroke="#000" stroke-width="1.0" />
<line x1="173.5" y1="250.6" x2="173.5" y2="254.6" stroke="#000" stroke-width="1.0" />
<line x1="175.5" y1="250.6" x2="175.5" y2="254.6" stroke="#000" stroke-width="1.0" />
<line x1="177.5" y1="250.6" x2="177.5" y2="254.6" stroke="#000" stroke-width="1.0" />
<line x1="179.5" y1="250.6" x2="179.5" y2="254.6" stroke="#000" stroke-width="1.0" />
<line x1="180.5" y1="250.6" x2="180.5" y2="257.4" stroke="#000" stroke-width="1.1" />
<path d="M226,252.5 C226.47,252.15 228.07,251.78 228.8,250.4 C229.53,249.02 229.93,247.28 230.4,244.2 C230.87,241.12 231.22,236.52 231.6,231.9 C231.98,227.28 232.33,221.62 232.7,216.5 C233.07,211.38 233.42,206.32 233.8,201.2 C234.18,196.08 234.55,190.68 235,185.8 C235.45,180.92 236.03,175.28 236.5,171.9 C236.97,168.52 237.33,165.5 237.8,165.5 C238.27,165.5 238.8,168.52 239.3,171.9 C239.8,175.28 240.28,180.92 240.8,185.8 C241.32,190.68 241.83,196.08 242.4,201.2 C242.97,206.32 243.63,211.38 244.2,216.5 C244.77,221.62 245.15,227.53 245.8,231.9 C246.45,236.27 247.2,240.38 248.1,242.7 C249,245.02 250.05,245.03 251.2,245.8 C252.35,246.57 253.33,246.67 255,247.3 C256.67,247.93 258.9,248.95 261.2,249.6 C263.5,250.25 266.33,250.72 268.8,251.2 C271.27,251.68 274.8,252.28 276,252.5 Z" fill="#0a0a0a" stroke="#000" stroke-width="0.7" stroke-linejoin="round"/>
<path d="M223.5,250 C223.92,249.92 225.08,249.67 226,249.5 C226.92,249.33 228.23,249.92 229,249 C229.77,248.08 230.12,246.85 230.6,244 C231.08,241.15 231.5,236.48 231.9,231.9 C232.3,227.32 232.65,221.62 233,216.5 C233.35,211.38 233.63,206.32 234,201.2 C234.37,196.08 234.77,190.58 235.2,185.8 C235.63,181.02 236.18,175.63 236.6,172.5 C237.02,169.37 237.22,166.92 237.7,167 C238.18,167.08 238.8,169.87 239.5,173 C240.2,176.13 241.12,181.1 241.9,185.8 C242.68,190.5 243.43,196.08 244.2,201.2 C244.97,206.32 245.6,211.38 246.5,216.5 C247.4,221.62 248.43,227.78 249.6,231.9 C250.77,236.02 252.08,239.15 253.5,241.2 C254.92,243.25 256.32,243.18 258.1,244.2 C259.88,245.22 261.63,246.27 264.2,247.3 C266.77,248.33 270.93,249.63 273.5,250.4 C276.07,251.17 276.85,251.57 279.6,251.9 C282.35,252.23 288.27,252.32 290,252.4" fill="none" stroke="#9a9a9a" stroke-width="1.3" stroke-linejoin="round" stroke-linecap="butt"/>
<path d="M225,252.3 C225.63,251.92 227.88,251.38 228.8,250 C229.72,248.62 230,247.02 230.5,244 C231,240.98 231.4,236.48 231.8,231.9 C232.2,227.32 232.53,221.62 232.9,216.5 C233.27,211.38 233.6,206.32 234,201.2 C234.4,196.08 234.85,190.5 235.3,185.8 C235.75,181.1 236.28,176.22 236.7,173 C237.12,169.78 237.38,166.28 237.8,166.5 C238.22,166.72 238.67,171.42 239.2,174.3 C239.73,177.18 240.52,180.95 241,183.8 C241.48,186.65 241.73,188.87 242.1,191.4 C242.47,193.93 242.75,197.43 243.2,199 C243.65,200.57 244.28,200.72 244.8,200.8 C245.32,200.88 245.9,198.68 246.3,199.5 C246.7,200.32 246.8,203.55 247.2,205.7 C247.6,207.85 248.13,210.18 248.7,212.4 C249.27,214.62 249.97,216.93 250.6,219 C251.23,221.07 251.77,222.9 252.5,224.8 C253.23,226.7 253.82,228.45 255,230.4 C256.18,232.35 258.07,234.97 259.6,236.5 C261.13,238.03 262.4,238.57 264.2,239.6 C266,240.63 268.35,241.42 270.4,242.7 C272.45,243.98 274.2,246.02 276.5,247.3 C278.8,248.58 281.12,249.57 284.2,250.4 C287.28,251.23 293.2,251.98 295,252.3" fill="none" stroke="#111" stroke-width="1.0" stroke-dasharray="1.2 0.8" stroke-linejoin="round" stroke-linecap="butt"/>
<line x1="222.4" y1="156" x2="222.4" y2="253.1" stroke="#000" stroke-width="1.3" />
<line x1="215.4" y1="252.5" x2="222.4" y2="252.5" stroke="#000" stroke-width="1.1" />
<line x1="218.7" y1="248.5" x2="222.4" y2="248.5" stroke="#000" stroke-width="1.0" />
<line x1="218.7" y1="244.5" x2="222.4" y2="244.5" stroke="#000" stroke-width="1.0" />
<line x1="218.7" y1="240.5" x2="222.4" y2="240.5" stroke="#000" stroke-width="1.0" />
<line x1="218.7" y1="237.5" x2="222.4" y2="237.5" stroke="#000" stroke-width="1.0" />
<line x1="215.4" y1="233.5" x2="222.4" y2="233.5" stroke="#000" stroke-width="1.1" />
<line x1="218.7" y1="229.5" x2="222.4" y2="229.5" stroke="#000" stroke-width="1.0" />
<line x1="218.7" y1="225.5" x2="222.4" y2="225.5" stroke="#000" stroke-width="1.0" />
<line x1="218.7" y1="221.5" x2="222.4" y2="221.5" stroke="#000" stroke-width="1.0" />
<line x1="218.7" y1="217.5" x2="222.4" y2="217.5" stroke="#000" stroke-width="1.0" />
<line x1="215.4" y1="213.5" x2="222.4" y2="213.5" stroke="#000" stroke-width="1.1" />
<line x1="218.7" y1="210.5" x2="222.4" y2="210.5" stroke="#000" stroke-width="1.0" />
<line x1="218.7" y1="206.5" x2="222.4" y2="206.5" stroke="#000" stroke-width="1.0" />
<line x1="218.7" y1="202.5" x2="222.4" y2="202.5" stroke="#000" stroke-width="1.0" />
<line x1="218.7" y1="198.5" x2="222.4" y2="198.5" stroke="#000" stroke-width="1.0" />
<line x1="215.4" y1="194.5" x2="222.4" y2="194.5" stroke="#000" stroke-width="1.1" />
<line x1="218.7" y1="190.5" x2="222.4" y2="190.5" stroke="#000" stroke-width="1.0" />
<line x1="218.7" y1="186.5" x2="222.4" y2="186.5" stroke="#000" stroke-width="1.0" />
<line x1="218.7" y1="183.5" x2="222.4" y2="183.5" stroke="#000" stroke-width="1.0" />
<line x1="218.7" y1="179.5" x2="222.4" y2="179.5" stroke="#000" stroke-width="1.0" />
<line x1="215.4" y1="175.5" x2="222.4" y2="175.5" stroke="#000" stroke-width="1.1" />
<line x1="218.7" y1="171.5" x2="222.4" y2="171.5" stroke="#000" stroke-width="1.0" />
<line x1="218.7" y1="167.5" x2="222.4" y2="167.5" stroke="#000" stroke-width="1.0" />
<line x1="218.7" y1="163.5" x2="222.4" y2="163.5" stroke="#000" stroke-width="1.0" />
<line x1="218.7" y1="159.5" x2="222.4" y2="159.5" stroke="#000" stroke-width="1.0" />
<line x1="215.4" y1="156.5" x2="222.4" y2="156.5" stroke="#000" stroke-width="1.1" />
<line x1="221.8" y1="252.5" x2="340" y2="252.5" stroke="#000" stroke-width="1.3" />
<line x1="222.5" y1="252.5" x2="222.5" y2="259.3" stroke="#000" stroke-width="1.1" />
<line x1="231.5" y1="252.5" x2="231.5" y2="256.5" stroke="#000" stroke-width="1.0" />
<line x1="236.5" y1="252.5" x2="236.5" y2="256.5" stroke="#000" stroke-width="1.0" />
<line x1="240.5" y1="252.5" x2="240.5" y2="256.5" stroke="#000" stroke-width="1.0" />
<line x1="242.5" y1="252.5" x2="242.5" y2="256.5" stroke="#000" stroke-width="1.0" />
<line x1="245.5" y1="252.5" x2="245.5" y2="256.5" stroke="#000" stroke-width="1.0" />
<line x1="247.5" y1="252.5" x2="247.5" y2="256.5" stroke="#000" stroke-width="1.0" />
<line x1="248.5" y1="252.5" x2="248.5" y2="256.5" stroke="#000" stroke-width="1.0" />
<line x1="250.5" y1="252.5" x2="250.5" y2="256.5" stroke="#000" stroke-width="1.0" />
<line x1="251.5" y1="252.5" x2="251.5" y2="259.3" stroke="#000" stroke-width="1.1" />
<line x1="260.5" y1="252.5" x2="260.5" y2="256.5" stroke="#000" stroke-width="1.0" />
<line x1="265.5" y1="252.5" x2="265.5" y2="256.5" stroke="#000" stroke-width="1.0" />
<line x1="269.5" y1="252.5" x2="269.5" y2="256.5" stroke="#000" stroke-width="1.0" />
<line x1="272.5" y1="252.5" x2="272.5" y2="256.5" stroke="#000" stroke-width="1.0" />
<line x1="274.5" y1="252.5" x2="274.5" y2="256.5" stroke="#000" stroke-width="1.0" />
<line x1="276.5" y1="252.5" x2="276.5" y2="256.5" stroke="#000" stroke-width="1.0" />
<line x1="278.5" y1="252.5" x2="278.5" y2="256.5" stroke="#000" stroke-width="1.0" />
<line x1="279.5" y1="252.5" x2="279.5" y2="256.5" stroke="#000" stroke-width="1.0" />
<line x1="281.5" y1="252.5" x2="281.5" y2="259.3" stroke="#000" stroke-width="1.1" />
<line x1="290.5" y1="252.5" x2="290.5" y2="256.5" stroke="#000" stroke-width="1.0" />
<line x1="295.5" y1="252.5" x2="295.5" y2="256.5" stroke="#000" stroke-width="1.0" />
<line x1="299.5" y1="252.5" x2="299.5" y2="256.5" stroke="#000" stroke-width="1.0" />
<line x1="301.5" y1="252.5" x2="301.5" y2="256.5" stroke="#000" stroke-width="1.0" />
<line x1="304.5" y1="252.5" x2="304.5" y2="256.5" stroke="#000" stroke-width="1.0" />
<line x1="306.5" y1="252.5" x2="306.5" y2="256.5" stroke="#000" stroke-width="1.0" />
<line x1="307.5" y1="252.5" x2="307.5" y2="256.5" stroke="#000" stroke-width="1.0" />
<line x1="309.5" y1="252.5" x2="309.5" y2="256.5" stroke="#000" stroke-width="1.0" />
<line x1="310.5" y1="252.5" x2="310.5" y2="259.3" stroke="#000" stroke-width="1.1" />
<line x1="319.5" y1="252.5" x2="319.5" y2="256.5" stroke="#000" stroke-width="1.0" />
<line x1="324.5" y1="252.5" x2="324.5" y2="256.5" stroke="#000" stroke-width="1.0" />
<line x1="328.5" y1="252.5" x2="328.5" y2="256.5" stroke="#000" stroke-width="1.0" />
<line x1="331.5" y1="252.5" x2="331.5" y2="256.5" stroke="#000" stroke-width="1.0" />
<line x1="333.5" y1="252.5" x2="333.5" y2="256.5" stroke="#000" stroke-width="1.0" />
<line x1="335.5" y1="252.5" x2="335.5" y2="256.5" stroke="#000" stroke-width="1.0" />
<line x1="337.5" y1="252.5" x2="337.5" y2="256.5" stroke="#000" stroke-width="1.0" />
<line x1="338.5" y1="252.5" x2="338.5" y2="256.5" stroke="#000" stroke-width="1.0" />
<line x1="340.5" y1="252.5" x2="340.5" y2="259.3" stroke="#000" stroke-width="1.1" />
<polygon points="378.2,250.9 378.2,220.66 379.4,212.58 380.8,196.53 382.1,183.13 383.5,172.4 384.8,165.7 386.2,162.35 387.6,172.4 388.9,183.13 390.3,193.87 391.6,203.23 393,212.58 395,223.32 397.1,231.4 399.8,236.72 402.5,242.13 405.3,245.48 408.7,248.83 411.4,250.9" fill="#000"/>
<path d="M399,250.9 C399.48,250.56 401.2,250.29 401.9,248.83 C402.6,247.37 402.75,244.6 403.2,242.13 C403.65,239.67 404.15,237.19 404.6,234.06 C405.05,230.92 405.5,227.34 405.9,223.32 C406.3,219.3 406.65,214.39 407,209.92 C407.35,205.46 407.72,200.99 408,196.53 C408.28,192.06 408.48,187.15 408.7,183.13 C408.92,179.11 409.08,175.3 409.3,172.4 C409.52,169.49 409.62,167.34 410,165.7 C410.38,164.06 411.03,162.55 411.6,162.55 C412.17,162.55 412.93,163.38 413.4,165.7 C413.87,168.01 414.1,172.41 414.4,176.43 C414.7,180.46 414.92,185.36 415.2,189.83 C415.48,194.3 415.78,198.76 416.1,203.23 C416.42,207.69 416.72,212.16 417.1,216.62 C417.48,221.09 417.88,226 418.4,230.02 C418.92,234.04 419.45,237.62 420.2,240.75 C420.95,243.89 421.98,247.24 422.9,248.83 C423.82,250.42 424.18,249.96 425.7,250.31 C427.22,250.65 430.95,250.8 432,250.9" fill="none" stroke="#000" stroke-width="1.2" stroke-linejoin="round" stroke-linecap="butt"/>
<path d="M400.4,250.9 C400.88,250.56 402.6,250.29 403.3,248.83 C404,247.37 404.15,244.6 404.6,242.13 C405.05,239.67 405.55,237.19 406,234.06 C406.45,230.92 406.9,227.34 407.3,223.32 C407.7,219.3 408.05,214.39 408.4,209.92 C408.75,205.46 409.12,200.99 409.4,196.53 C409.68,192.06 409.88,187.15 410.1,183.13 C410.32,179.11 410.48,175.3 410.7,172.4 C410.92,169.49 411.02,167.34 411.4,165.7 C411.78,164.06 412.43,162.55 413,162.55 C413.57,162.55 414.33,163.38 414.8,165.7 C415.27,168.01 415.5,172.41 415.8,176.43 C416.1,180.46 416.32,185.36 416.6,189.83 C416.88,194.3 417.18,198.76 417.5,203.23 C417.82,207.69 418.12,212.16 418.5,216.62 C418.88,221.09 419.28,226 419.8,230.02 C420.32,234.04 420.85,237.62 421.6,240.75 C422.35,243.89 423.38,247.24 424.3,248.83 C425.22,250.42 425.58,249.96 427.1,250.31 C428.62,250.65 432.35,250.8 433.4,250.9" fill="none" stroke="#111" stroke-width="1.6" stroke-dasharray="3.2 1.6" stroke-linejoin="round" stroke-linecap="butt"/>
<line x1="378.4" y1="156.7" x2="378.4" y2="251.5" stroke="#000" stroke-width="1.3" />
<line x1="371.4" y1="250.5" x2="378.4" y2="250.5" stroke="#000" stroke-width="1.1" />
<line x1="374.7" y1="247.5" x2="378.4" y2="247.5" stroke="#000" stroke-width="1.0" />
<line x1="374.7" y1="243.5" x2="378.4" y2="243.5" stroke="#000" stroke-width="1.0" />
<line x1="374.7" y1="239.5" x2="378.4" y2="239.5" stroke="#000" stroke-width="1.0" />
<line x1="374.7" y1="235.5" x2="378.4" y2="235.5" stroke="#000" stroke-width="1.0" />
<line x1="371.4" y1="232.5" x2="378.4" y2="232.5" stroke="#000" stroke-width="1.1" />
<line x1="374.7" y1="228.5" x2="378.4" y2="228.5" stroke="#000" stroke-width="1.0" />
<line x1="374.7" y1="224.5" x2="378.4" y2="224.5" stroke="#000" stroke-width="1.0" />
<line x1="374.7" y1="220.5" x2="378.4" y2="220.5" stroke="#000" stroke-width="1.0" />
<line x1="374.7" y1="216.5" x2="378.4" y2="216.5" stroke="#000" stroke-width="1.0" />
<line x1="371.4" y1="213.5" x2="378.4" y2="213.5" stroke="#000" stroke-width="1.1" />
<line x1="374.7" y1="209.5" x2="378.4" y2="209.5" stroke="#000" stroke-width="1.0" />
<line x1="374.7" y1="205.5" x2="378.4" y2="205.5" stroke="#000" stroke-width="1.0" />
<line x1="374.7" y1="201.5" x2="378.4" y2="201.5" stroke="#000" stroke-width="1.0" />
<line x1="374.7" y1="198.5" x2="378.4" y2="198.5" stroke="#000" stroke-width="1.0" />
<line x1="371.4" y1="194.5" x2="378.4" y2="194.5" stroke="#000" stroke-width="1.1" />
<line x1="374.7" y1="190.5" x2="378.4" y2="190.5" stroke="#000" stroke-width="1.0" />
<line x1="374.7" y1="186.5" x2="378.4" y2="186.5" stroke="#000" stroke-width="1.0" />
<line x1="374.7" y1="183.5" x2="378.4" y2="183.5" stroke="#000" stroke-width="1.0" />
<line x1="374.7" y1="179.5" x2="378.4" y2="179.5" stroke="#000" stroke-width="1.0" />
<line x1="371.4" y1="175.5" x2="378.4" y2="175.5" stroke="#000" stroke-width="1.1" />
<line x1="374.7" y1="171.5" x2="378.4" y2="171.5" stroke="#000" stroke-width="1.0" />
<line x1="374.7" y1="168.5" x2="378.4" y2="168.5" stroke="#000" stroke-width="1.0" />
<line x1="374.7" y1="164.5" x2="378.4" y2="164.5" stroke="#000" stroke-width="1.0" />
<line x1="374.7" y1="160.5" x2="378.4" y2="160.5" stroke="#000" stroke-width="1.0" />
<line x1="371.4" y1="156.5" x2="378.4" y2="156.5" stroke="#000" stroke-width="1.1" />
<line x1="377.8" y1="250.9" x2="496.7" y2="250.9" stroke="#000" stroke-width="1.3" />
<line x1="378.5" y1="250.9" x2="378.5" y2="257.7" stroke="#000" stroke-width="1.1" />
<line x1="387.5" y1="250.9" x2="387.5" y2="254.9" stroke="#000" stroke-width="1.0" />
<line x1="392.5" y1="250.9" x2="392.5" y2="254.9" stroke="#000" stroke-width="1.0" />
<line x1="395.5" y1="250.9" x2="395.5" y2="254.9" stroke="#000" stroke-width="1.0" />
<line x1="398.5" y1="250.9" x2="398.5" y2="254.9" stroke="#000" stroke-width="1.0" />
<line x1="401.5" y1="250.9" x2="401.5" y2="254.9" stroke="#000" stroke-width="1.0" />
<line x1="403.5" y1="250.9" x2="403.5" y2="254.9" stroke="#000" stroke-width="1.0" />
<line x1="404.5" y1="250.9" x2="404.5" y2="254.9" stroke="#000" stroke-width="1.0" />
<line x1="406.5" y1="250.9" x2="406.5" y2="254.9" stroke="#000" stroke-width="1.0" />
<line x1="407.5" y1="250.9" x2="407.5" y2="257.7" stroke="#000" stroke-width="1.1" />
<line x1="416.5" y1="250.9" x2="416.5" y2="254.9" stroke="#000" stroke-width="1.0" />
<line x1="421.5" y1="250.9" x2="421.5" y2="254.9" stroke="#000" stroke-width="1.0" />
<line x1="425.5" y1="250.9" x2="425.5" y2="254.9" stroke="#000" stroke-width="1.0" />
<line x1="428.5" y1="250.9" x2="428.5" y2="254.9" stroke="#000" stroke-width="1.0" />
<line x1="430.5" y1="250.9" x2="430.5" y2="254.9" stroke="#000" stroke-width="1.0" />
<line x1="432.5" y1="250.9" x2="432.5" y2="254.9" stroke="#000" stroke-width="1.0" />
<line x1="433.5" y1="250.9" x2="433.5" y2="254.9" stroke="#000" stroke-width="1.0" />
<line x1="435.5" y1="250.9" x2="435.5" y2="254.9" stroke="#000" stroke-width="1.0" />
<line x1="436.5" y1="250.9" x2="436.5" y2="257.7" stroke="#000" stroke-width="1.1" />
<line x1="445.5" y1="250.9" x2="445.5" y2="254.9" stroke="#000" stroke-width="1.0" />
<line x1="450.5" y1="250.9" x2="450.5" y2="254.9" stroke="#000" stroke-width="1.0" />
<line x1="454.5" y1="250.9" x2="454.5" y2="254.9" stroke="#000" stroke-width="1.0" />
<line x1="457.5" y1="250.9" x2="457.5" y2="254.9" stroke="#000" stroke-width="1.0" />
<line x1="459.5" y1="250.9" x2="459.5" y2="254.9" stroke="#000" stroke-width="1.0" />
<line x1="461.5" y1="250.9" x2="461.5" y2="254.9" stroke="#000" stroke-width="1.0" />
<line x1="463.5" y1="250.9" x2="463.5" y2="254.9" stroke="#000" stroke-width="1.0" />
<line x1="464.5" y1="250.9" x2="464.5" y2="254.9" stroke="#000" stroke-width="1.0" />
<line x1="466.5" y1="250.9" x2="466.5" y2="257.7" stroke="#000" stroke-width="1.1" />
<line x1="474.5" y1="250.9" x2="474.5" y2="254.9" stroke="#000" stroke-width="1.0" />
<line x1="479.5" y1="250.9" x2="479.5" y2="254.9" stroke="#000" stroke-width="1.0" />
<line x1="483.5" y1="250.9" x2="483.5" y2="254.9" stroke="#000" stroke-width="1.0" />
<line x1="486.5" y1="250.9" x2="486.5" y2="254.9" stroke="#000" stroke-width="1.0" />
<line x1="488.5" y1="250.9" x2="488.5" y2="254.9" stroke="#000" stroke-width="1.0" />
<line x1="490.5" y1="250.9" x2="490.5" y2="254.9" stroke="#000" stroke-width="1.0" />
<line x1="492.5" y1="250.9" x2="492.5" y2="254.9" stroke="#000" stroke-width="1.0" />
<line x1="493.5" y1="250.9" x2="493.5" y2="254.9" stroke="#000" stroke-width="1.0" />
<line x1="495.5" y1="250.9" x2="495.5" y2="257.7" stroke="#000" stroke-width="1.1" />
<rect x="443.4" y="165.4" width="75.8" height="38" fill="#fff" stroke="#000" stroke-width="1.2"/>
<line x1="453" y1="177.8" x2="467" y2="177.8" stroke="#000" stroke-width="2.3" />
<line x1="453" y1="191.2" x2="467" y2="191.2" stroke="#000" stroke-width="2.1" stroke-dasharray="2 1.8"/>
<text x="475.4" y="182.3" style="font-family:'Liberation Serif',serif;font-size:12.8px;font-weight:normal" text-anchor="start" >Nil</text>
<text x="475.4" y="195.7" style="font-family:'Liberation Serif',serif;font-size:12.8px;font-weight:normal" text-anchor="start" >TNF-α</text>
<path d="M60,384 C60.35,383.48 61.42,382.1 62.1,380.9 C62.78,379.7 63.53,378.85 64.1,376.8 C64.67,374.75 65.05,372.23 65.5,368.6 C65.95,364.97 66.35,359.53 66.8,355 C67.25,350.47 67.73,345.93 68.2,341.4 C68.67,336.87 69.15,332.33 69.6,327.8 C70.05,323.27 70.45,318.73 70.9,314.2 C71.35,309.67 71.85,304.33 72.3,300.6 C72.75,296.87 73.15,292.25 73.6,291.8 C74.05,291.35 74.47,295.3 75,297.9 C75.53,300.5 76.23,303.55 76.8,307.4 C77.37,311.25 77.9,316.47 78.4,321 C78.9,325.53 79.3,330.07 79.8,334.6 C80.3,339.13 80.83,343.67 81.4,348.2 C81.97,352.73 82.68,357.72 83.2,361.8 C83.72,365.88 84.05,369.97 84.5,372.7 C84.95,375.43 85.33,376.95 85.9,378.2 C86.47,379.45 86.88,379.75 87.9,380.2 C88.92,380.65 90.4,380.67 92,380.9 C93.6,381.13 95.5,381.25 97.5,381.6 C99.5,381.95 101.92,382.6 104,383 C106.08,383.4 109,383.83 110,384 Z" fill="#0a0a0a" stroke="#000" stroke-width="0.7" stroke-linejoin="round"/>
<path d="M88,383.5 C88.98,383.18 92.48,382.35 93.9,381.6 C95.32,380.85 95.63,380.52 96.5,379 C97.37,377.48 98.23,375.73 99.1,372.5 C99.97,369.27 100.95,363.9 101.7,359.6 C102.45,355.3 103.07,351 103.6,346.7 C104.13,342.4 104.5,338.12 104.9,333.8 C105.3,329.48 105.62,324.47 106,320.8 C106.38,317.13 106.73,314.05 107.2,311.8 C107.67,309.55 108.22,307.52 108.8,307.3 C109.38,307.08 110.17,308.88 110.7,310.5 C111.23,312.12 111.57,314.2 112,317 C112.43,319.8 112.87,323.43 113.3,327.3 C113.73,331.17 114.1,335.9 114.6,340.2 C115.1,344.5 115.77,348.78 116.3,353.1 C116.83,357.42 117.22,362.43 117.8,366.1 C118.38,369.77 119.03,372.63 119.8,375.1 C120.57,377.57 121.22,379.6 122.4,380.9 C123.58,382.2 125.13,382.43 126.9,382.9 C128.67,383.37 131.98,383.57 133,383.7" fill="none" stroke="#adadad" stroke-width="2.0" stroke-linejoin="round" stroke-linecap="butt"/>
<path d="M90,383.5 C91.2,383.18 95.37,382.13 97.2,381.6 C99.03,381.07 99.6,381.38 101,380.3 C102.4,379.22 104.3,377.05 105.6,375.1 C106.9,373.15 107.83,371.18 108.8,368.6 C109.77,366.02 110.65,362.82 111.4,359.6 C112.15,356.38 112.77,352.53 113.3,349.3 C113.83,346.07 114.17,342.78 114.6,340.2 C115.03,337.62 115.37,336.48 115.9,333.8 C116.43,331.12 117.15,324.75 117.8,324.1 C118.45,323.45 119.15,328.08 119.8,329.9 C120.45,331.72 121.05,333.93 121.7,335 C122.35,336.07 123.05,334.35 123.7,336.3 C124.35,338.25 124.85,343.68 125.6,346.7 C126.35,349.72 127.33,351.38 128.2,354.4 C129.07,357.42 129.83,361.78 130.8,364.8 C131.77,367.82 132.93,370.13 134,372.5 C135.07,374.87 135.92,377.25 137.2,379 C138.48,380.75 139.9,382.18 141.7,383 C143.5,383.82 146.95,383.75 148,383.9" fill="none" stroke="#111" stroke-width="1.0" stroke-dasharray="1.2 0.8" stroke-linejoin="round" stroke-linecap="butt"/>
<line x1="58.5" y1="290.3" x2="58.5" y2="384.6" stroke="#000" stroke-width="1.3" />
<line x1="51.5" y1="384.5" x2="58.5" y2="384.5" stroke="#000" stroke-width="1.1" />
<line x1="54.8" y1="380.5" x2="58.5" y2="380.5" stroke="#000" stroke-width="1.0" />
<line x1="54.8" y1="376.5" x2="58.5" y2="376.5" stroke="#000" stroke-width="1.0" />
<line x1="54.8" y1="372.5" x2="58.5" y2="372.5" stroke="#000" stroke-width="1.0" />
<line x1="54.8" y1="369.5" x2="58.5" y2="369.5" stroke="#000" stroke-width="1.0" />
<line x1="51.5" y1="365.5" x2="58.5" y2="365.5" stroke="#000" stroke-width="1.1" />
<line x1="54.8" y1="361.5" x2="58.5" y2="361.5" stroke="#000" stroke-width="1.0" />
<line x1="54.8" y1="357.5" x2="58.5" y2="357.5" stroke="#000" stroke-width="1.0" />
<line x1="54.8" y1="354.5" x2="58.5" y2="354.5" stroke="#000" stroke-width="1.0" />
<line x1="54.8" y1="350.5" x2="58.5" y2="350.5" stroke="#000" stroke-width="1.0" />
<line x1="51.5" y1="346.5" x2="58.5" y2="346.5" stroke="#000" stroke-width="1.1" />
<line x1="54.8" y1="342.5" x2="58.5" y2="342.5" stroke="#000" stroke-width="1.0" />
<line x1="54.8" y1="339.5" x2="58.5" y2="339.5" stroke="#000" stroke-width="1.0" />
<line x1="54.8" y1="335.5" x2="58.5" y2="335.5" stroke="#000" stroke-width="1.0" />
<line x1="54.8" y1="331.5" x2="58.5" y2="331.5" stroke="#000" stroke-width="1.0" />
<line x1="51.5" y1="327.5" x2="58.5" y2="327.5" stroke="#000" stroke-width="1.1" />
<line x1="54.8" y1="324.5" x2="58.5" y2="324.5" stroke="#000" stroke-width="1.0" />
<line x1="54.8" y1="320.5" x2="58.5" y2="320.5" stroke="#000" stroke-width="1.0" />
<line x1="54.8" y1="316.5" x2="58.5" y2="316.5" stroke="#000" stroke-width="1.0" />
<line x1="54.8" y1="312.5" x2="58.5" y2="312.5" stroke="#000" stroke-width="1.0" />
<line x1="51.5" y1="309.5" x2="58.5" y2="309.5" stroke="#000" stroke-width="1.1" />
<line x1="54.8" y1="305.5" x2="58.5" y2="305.5" stroke="#000" stroke-width="1.0" />
<line x1="54.8" y1="301.5" x2="58.5" y2="301.5" stroke="#000" stroke-width="1.0" />
<line x1="54.8" y1="297.5" x2="58.5" y2="297.5" stroke="#000" stroke-width="1.0" />
<line x1="54.8" y1="294.5" x2="58.5" y2="294.5" stroke="#000" stroke-width="1.0" />
<line x1="51.5" y1="290.5" x2="58.5" y2="290.5" stroke="#000" stroke-width="1.1" />
<text x="47" y="388.1" style="font-family:'Liberation Serif',serif;font-size:11.8px;font-weight:normal" text-anchor="end" >0</text>
<text x="47" y="369.36" style="font-family:'Liberation Serif',serif;font-size:11.8px;font-weight:normal" text-anchor="end" >40</text>
<text x="47" y="350.62" style="font-family:'Liberation Serif',serif;font-size:11.8px;font-weight:normal" text-anchor="end" >80</text>
<text x="47" y="331.88" style="font-family:'Liberation Serif',serif;font-size:11.8px;font-weight:normal" text-anchor="end" >120</text>
<text x="47" y="313.14" style="font-family:'Liberation Serif',serif;font-size:11.8px;font-weight:normal" text-anchor="end" >160</text>
<text x="47" y="294.4" style="font-family:'Liberation Serif',serif;font-size:11.8px;font-weight:normal" text-anchor="end" >200</text>
<line x1="57.9" y1="384" x2="180.3" y2="384" stroke="#000" stroke-width="1.3" />
<line x1="58.5" y1="384" x2="58.5" y2="390.8" stroke="#000" stroke-width="1.1" />
<line x1="67.5" y1="384" x2="67.5" y2="388" stroke="#000" stroke-width="1.0" />
<line x1="73.5" y1="384" x2="73.5" y2="388" stroke="#000" stroke-width="1.0" />
<line x1="77.5" y1="384" x2="77.5" y2="388" stroke="#000" stroke-width="1.0" />
<line x1="80.5" y1="384" x2="80.5" y2="388" stroke="#000" stroke-width="1.0" />
<line x1="82.5" y1="384" x2="82.5" y2="388" stroke="#000" stroke-width="1.0" />
<line x1="84.5" y1="384" x2="84.5" y2="388" stroke="#000" stroke-width="1.0" />
<line x1="86.5" y1="384" x2="86.5" y2="388" stroke="#000" stroke-width="1.0" />
<line x1="88.5" y1="384" x2="88.5" y2="388" stroke="#000" stroke-width="1.0" />
<line x1="89.5" y1="384" x2="89.5" y2="390.8" stroke="#000" stroke-width="1.1" />
<line x1="98.5" y1="384" x2="98.5" y2="388" stroke="#000" stroke-width="1.0" />
<line x1="104.5" y1="384" x2="104.5" y2="388" stroke="#000" stroke-width="1.0" />
<line x1="108.5" y1="384" x2="108.5" y2="388" stroke="#000" stroke-width="1.0" />
<line x1="111.5" y1="384" x2="111.5" y2="388" stroke="#000" stroke-width="1.0" />
<line x1="113.5" y1="384" x2="113.5" y2="388" stroke="#000" stroke-width="1.0" />
<line x1="115.5" y1="384" x2="115.5" y2="388" stroke="#000" stroke-width="1.0" />
<line x1="117.5" y1="384" x2="117.5" y2="388" stroke="#000" stroke-width="1.0" />
<line x1="118.5" y1="384" x2="118.5" y2="388" stroke="#000" stroke-width="1.0" />
<line x1="120.5" y1="384" x2="120.5" y2="390.8" stroke="#000" stroke-width="1.1" />
<line x1="129.5" y1="384" x2="129.5" y2="388" stroke="#000" stroke-width="1.0" />
<line x1="134.5" y1="384" x2="134.5" y2="388" stroke="#000" stroke-width="1.0" />
<line x1="138.5" y1="384" x2="138.5" y2="388" stroke="#000" stroke-width="1.0" />
<line x1="141.5" y1="384" x2="141.5" y2="388" stroke="#000" stroke-width="1.0" />
<line x1="143.5" y1="384" x2="143.5" y2="388" stroke="#000" stroke-width="1.0" />
<line x1="145.5" y1="384" x2="145.5" y2="388" stroke="#000" stroke-width="1.0" />
<line x1="147.5" y1="384" x2="147.5" y2="388" stroke="#000" stroke-width="1.0" />
<line x1="148.5" y1="384" x2="148.5" y2="388" stroke="#000" stroke-width="1.0" />
<line x1="150.5" y1="384" x2="150.5" y2="390.8" stroke="#000" stroke-width="1.1" />
<line x1="159.5" y1="384" x2="159.5" y2="388" stroke="#000" stroke-width="1.0" />
<line x1="164.5" y1="384" x2="164.5" y2="388" stroke="#000" stroke-width="1.0" />
<line x1="168.5" y1="384" x2="168.5" y2="388" stroke="#000" stroke-width="1.0" />
<line x1="171.5" y1="384" x2="171.5" y2="388" stroke="#000" stroke-width="1.0" />
<line x1="173.5" y1="384" x2="173.5" y2="388" stroke="#000" stroke-width="1.0" />
<line x1="175.5" y1="384" x2="175.5" y2="388" stroke="#000" stroke-width="1.0" />
<line x1="177.5" y1="384" x2="177.5" y2="388" stroke="#000" stroke-width="1.0" />
<line x1="178.5" y1="384" x2="178.5" y2="388" stroke="#000" stroke-width="1.0" />
<line x1="180.5" y1="384" x2="180.5" y2="390.8" stroke="#000" stroke-width="1.1" />
<text x="50.9" y="408.6" style="font-family:'Liberation Serif',serif;font-size:12.8px">10<tspan dy="-4.8" style="font-size:8.5px">0</tspan></text>
<text x="81.1" y="408.6" style="font-family:'Liberation Serif',serif;font-size:12.8px">10<tspan dy="-4.8" style="font-size:8.5px">1</tspan></text>
<text x="106.4" y="408.6" style="font-family:'Liberation Serif',serif;font-size:12.8px">10<tspan dy="-4.8" style="font-size:8.5px">2</tspan></text>
<text x="135.8" y="408.6" style="font-family:'Liberation Serif',serif;font-size:12.8px">10<tspan dy="-4.8" style="font-size:8.5px">3</tspan></text>
<text x="165.2" y="408.6" style="font-family:'Liberation Serif',serif;font-size:12.8px">10<tspan dy="-4.8" style="font-size:8.5px">4</tspan></text>
<path d="M224,385 C224.55,384.48 226.43,383.95 227.3,381.9 C228.17,379.85 228.68,376.55 229.2,372.7 C229.72,368.85 230,363.67 230.4,358.8 C230.8,353.93 231.22,348.62 231.6,343.5 C231.98,338.38 232.33,333.23 232.7,328.1 C233.07,322.97 233.37,317.18 233.8,312.7 C234.23,308.22 234.72,301.72 235.3,301.2 C235.88,300.68 236.72,305.88 237.3,309.6 C237.88,313.32 238.28,318.63 238.8,323.5 C239.32,328.37 239.8,333.68 240.4,338.8 C241,343.92 241.72,349.32 242.4,354.2 C243.08,359.08 243.82,364.25 244.5,368.1 C245.18,371.95 245.52,375.25 246.5,377.3 C247.48,379.35 248.73,379.63 250.4,380.4 C252.07,381.17 253.93,381.38 256.5,381.9 C259.07,382.42 262.72,382.98 265.8,383.5 C268.88,384.02 273.47,384.75 275,385 Z" fill="#0a0a0a" stroke="#000" stroke-width="0.7" stroke-linejoin="round"/>
<path d="M223,384.8 C223.58,384.33 225.5,383.8 226.5,382 C227.5,380.2 228.35,377.87 229,374 C229.65,370.13 229.97,363.88 230.4,358.8 C230.83,353.72 231.22,348.62 231.6,343.5 C231.98,338.38 232.32,333.18 232.7,328.1 C233.08,323.02 233.57,316.68 233.9,313 C234.23,309.32 234.47,307.58 234.7,306 C234.93,304.42 234.95,303.17 235.3,303.5 C235.65,303.83 236.08,304.67 236.8,308 C237.52,311.33 238.62,318.37 239.6,323.5 C240.58,328.63 241.67,333.68 242.7,338.8 C243.73,343.92 244.78,349.32 245.8,354.2 C246.82,359.08 247.65,364.77 248.8,368.1 C249.95,371.43 251.15,372.67 252.7,374.2 C254.25,375.73 255.92,376.27 258.1,377.3 C260.28,378.33 262.73,379.37 265.8,380.4 C268.87,381.43 272.47,382.77 276.5,383.5 C280.53,384.23 287.75,384.58 290,384.8" fill="none" stroke="#9a9a9a" stroke-width="1.3" stroke-linejoin="round" stroke-linecap="butt"/>
<path d="M223,384.8 C223.58,384.33 225.47,383.8 226.5,382 C227.53,380.2 228.52,377.87 229.2,374 C229.88,370.13 230.17,363.88 230.6,358.8 C231.03,353.72 231.42,348.62 231.8,343.5 C232.18,338.38 232.52,333.18 232.9,328.1 C233.28,323.02 233.77,316.68 234.1,313 C234.43,309.32 234.65,307.67 234.9,306 C235.15,304.33 235.17,302.5 235.6,303 C236.03,303.5 236.8,306.5 237.5,309 C238.2,311.5 239.07,314.82 239.8,318 C240.53,321.18 241.03,323.85 241.9,328.1 C242.77,332.35 243.97,338.63 245,343.5 C246.03,348.37 246.95,352.95 248.1,357.3 C249.25,361.65 250.5,366.52 251.9,369.6 C253.3,372.68 254.45,374.13 256.5,375.8 C258.55,377.47 260.87,378.32 264.2,379.6 C267.53,380.88 271.87,382.63 276.5,383.5 C281.13,384.37 289.42,384.58 292,384.8" fill="none" stroke="#111" stroke-width="1.0" stroke-dasharray="1.2 0.8" stroke-linejoin="round" stroke-linecap="butt"/>
<line x1="220.5" y1="288.8" x2="220.5" y2="385.6" stroke="#000" stroke-width="1.3" />
<line x1="213.5" y1="385.5" x2="220.5" y2="385.5" stroke="#000" stroke-width="1.1" />
<line x1="216.8" y1="381.5" x2="220.5" y2="381.5" stroke="#000" stroke-width="1.0" />
<line x1="216.8" y1="377.5" x2="220.5" y2="377.5" stroke="#000" stroke-width="1.0" />
<line x1="216.8" y1="373.5" x2="220.5" y2="373.5" stroke="#000" stroke-width="1.0" />
<line x1="216.8" y1="369.5" x2="220.5" y2="369.5" stroke="#000" stroke-width="1.0" />
<line x1="213.5" y1="365.5" x2="220.5" y2="365.5" stroke="#000" stroke-width="1.1" />
<line x1="216.8" y1="361.5" x2="220.5" y2="361.5" stroke="#000" stroke-width="1.0" />
<line x1="216.8" y1="358.5" x2="220.5" y2="358.5" stroke="#000" stroke-width="1.0" />
<line x1="216.8" y1="354.5" x2="220.5" y2="354.5" stroke="#000" stroke-width="1.0" />
<line x1="216.8" y1="350.5" x2="220.5" y2="350.5" stroke="#000" stroke-width="1.0" />
<line x1="213.5" y1="346.5" x2="220.5" y2="346.5" stroke="#000" stroke-width="1.1" />
<line x1="216.8" y1="342.5" x2="220.5" y2="342.5" stroke="#000" stroke-width="1.0" />
<line x1="216.8" y1="338.5" x2="220.5" y2="338.5" stroke="#000" stroke-width="1.0" />
<line x1="216.8" y1="334.5" x2="220.5" y2="334.5" stroke="#000" stroke-width="1.0" />
<line x1="216.8" y1="331.5" x2="220.5" y2="331.5" stroke="#000" stroke-width="1.0" />
<line x1="213.5" y1="327.5" x2="220.5" y2="327.5" stroke="#000" stroke-width="1.1" />
<line x1="216.8" y1="323.5" x2="220.5" y2="323.5" stroke="#000" stroke-width="1.0" />
<line x1="216.8" y1="319.5" x2="220.5" y2="319.5" stroke="#000" stroke-width="1.0" />
<line x1="216.8" y1="315.5" x2="220.5" y2="315.5" stroke="#000" stroke-width="1.0" />
<line x1="216.8" y1="311.5" x2="220.5" y2="311.5" stroke="#000" stroke-width="1.0" />
<line x1="213.5" y1="308.5" x2="220.5" y2="308.5" stroke="#000" stroke-width="1.1" />
<line x1="216.8" y1="304.5" x2="220.5" y2="304.5" stroke="#000" stroke-width="1.0" />
<line x1="216.8" y1="300.5" x2="220.5" y2="300.5" stroke="#000" stroke-width="1.0" />
<line x1="216.8" y1="296.5" x2="220.5" y2="296.5" stroke="#000" stroke-width="1.0" />
<line x1="216.8" y1="292.5" x2="220.5" y2="292.5" stroke="#000" stroke-width="1.0" />
<line x1="213.5" y1="288.5" x2="220.5" y2="288.5" stroke="#000" stroke-width="1.1" />
<line x1="219.9" y1="385" x2="341" y2="385" stroke="#000" stroke-width="1.3" />
<line x1="220.5" y1="385" x2="220.5" y2="391.8" stroke="#000" stroke-width="1.1" />
<line x1="229.5" y1="385" x2="229.5" y2="389" stroke="#000" stroke-width="1.0" />
<line x1="234.5" y1="385" x2="234.5" y2="389" stroke="#000" stroke-width="1.0" />
<line x1="238.5" y1="385" x2="238.5" y2="389" stroke="#000" stroke-width="1.0" />
<line x1="241.5" y1="385" x2="241.5" y2="389" stroke="#000" stroke-width="1.0" />
<line x1="243.5" y1="385" x2="243.5" y2="389" stroke="#000" stroke-width="1.0" />
<line x1="245.5" y1="385" x2="245.5" y2="389" stroke="#000" stroke-width="1.0" />
<line x1="247.5" y1="385" x2="247.5" y2="389" stroke="#000" stroke-width="1.0" />
<line x1="248.5" y1="385" x2="248.5" y2="389" stroke="#000" stroke-width="1.0" />
<line x1="250.5" y1="385" x2="250.5" y2="391.8" stroke="#000" stroke-width="1.1" />
<line x1="259.5" y1="385" x2="259.5" y2="389" stroke="#000" stroke-width="1.0" />
<line x1="264.5" y1="385" x2="264.5" y2="389" stroke="#000" stroke-width="1.0" />
<line x1="268.5" y1="385" x2="268.5" y2="389" stroke="#000" stroke-width="1.0" />
<line x1="271.5" y1="385" x2="271.5" y2="389" stroke="#000" stroke-width="1.0" />
<line x1="274.5" y1="385" x2="274.5" y2="389" stroke="#000" stroke-width="1.0" />
<line x1="276.5" y1="385" x2="276.5" y2="389" stroke="#000" stroke-width="1.0" />
<line x1="278.5" y1="385" x2="278.5" y2="389" stroke="#000" stroke-width="1.0" />
<line x1="279.5" y1="385" x2="279.5" y2="389" stroke="#000" stroke-width="1.0" />
<line x1="281.5" y1="385" x2="281.5" y2="391.8" stroke="#000" stroke-width="1.1" />
<line x1="289.5" y1="385" x2="289.5" y2="389" stroke="#000" stroke-width="1.0" />
<line x1="294.5" y1="385" x2="294.5" y2="389" stroke="#000" stroke-width="1.0" />
<line x1="298.5" y1="385" x2="298.5" y2="389" stroke="#000" stroke-width="1.0" />
<line x1="301.5" y1="385" x2="301.5" y2="389" stroke="#000" stroke-width="1.0" />
<line x1="303.5" y1="385" x2="303.5" y2="389" stroke="#000" stroke-width="1.0" />
<line x1="305.5" y1="385" x2="305.5" y2="389" stroke="#000" stroke-width="1.0" />
<line x1="307.5" y1="385" x2="307.5" y2="389" stroke="#000" stroke-width="1.0" />
<line x1="308.5" y1="385" x2="308.5" y2="389" stroke="#000" stroke-width="1.0" />
<line x1="310.5" y1="385" x2="310.5" y2="391.8" stroke="#000" stroke-width="1.1" />
<line x1="319.5" y1="385" x2="319.5" y2="389" stroke="#000" stroke-width="1.0" />
<line x1="324.5" y1="385" x2="324.5" y2="389" stroke="#000" stroke-width="1.0" />
<line x1="328.5" y1="385" x2="328.5" y2="389" stroke="#000" stroke-width="1.0" />
<line x1="331.5" y1="385" x2="331.5" y2="389" stroke="#000" stroke-width="1.0" />
<line x1="334.5" y1="385" x2="334.5" y2="389" stroke="#000" stroke-width="1.0" />
<line x1="336.5" y1="385" x2="336.5" y2="389" stroke="#000" stroke-width="1.0" />
<line x1="337.5" y1="385" x2="337.5" y2="389" stroke="#000" stroke-width="1.0" />
<line x1="339.5" y1="385" x2="339.5" y2="389" stroke="#000" stroke-width="1.0" />
<line x1="341.5" y1="385" x2="341.5" y2="391.8" stroke="#000" stroke-width="1.1" />
<text x="214.5" y="409.6" style="font-family:'Liberation Serif',serif;font-size:12.8px">10<tspan dy="-4.8" style="font-size:8.5px">0</tspan></text>
<text x="243.6" y="409.6" style="font-family:'Liberation Serif',serif;font-size:12.8px">10<tspan dy="-4.8" style="font-size:8.5px">1</tspan></text>
<text x="270" y="409.6" style="font-family:'Liberation Serif',serif;font-size:12.8px">10<tspan dy="-4.8" style="font-size:8.5px">2</tspan></text>
<text x="298.8" y="409.6" style="font-family:'Liberation Serif',serif;font-size:12.8px">10<tspan dy="-4.8" style="font-size:8.5px">3</tspan></text>
<text x="327.1" y="409.6" style="font-family:'Liberation Serif',serif;font-size:12.8px">10<tspan dy="-4.8" style="font-size:8.5px">4</tspan></text>
<polygon points="378.2,385.2 378.2,354.5 379.4,346.3 380.8,330 382.1,316.4 383.5,305.5 384.8,298.7 386.2,295.3 387.6,305.5 388.9,316.4 390.3,327.3 391.6,336.8 393,346.3 395,357.2 397.1,365.4 399.8,370.8 402.5,376.3 405.3,379.7 408.7,383.1 411.4,385.2" fill="#000"/>
<path d="M399,385.2 C399.48,384.85 401.2,384.58 401.9,383.1 C402.6,381.62 402.75,378.8 403.2,376.3 C403.65,373.8 404.15,371.28 404.6,368.1 C405.05,364.92 405.5,361.28 405.9,357.2 C406.3,353.12 406.65,348.13 407,343.6 C407.35,339.07 407.72,334.53 408,330 C408.28,325.47 408.48,320.48 408.7,316.4 C408.92,312.32 409.08,308.45 409.3,305.5 C409.52,302.55 409.62,300.37 410,298.7 C410.38,297.03 411.03,295.5 411.6,295.5 C412.17,295.5 412.93,296.35 413.4,298.7 C413.87,301.05 414.1,305.52 414.4,309.6 C414.7,313.68 414.92,318.67 415.2,323.2 C415.48,327.73 415.78,332.27 416.1,336.8 C416.42,341.33 416.72,345.87 417.1,350.4 C417.48,354.93 417.88,359.92 418.4,364 C418.92,368.08 419.45,371.72 420.2,374.9 C420.95,378.08 421.98,381.48 422.9,383.1 C423.82,384.72 424.18,384.25 425.7,384.6 C427.22,384.95 430.95,385.1 432,385.2" fill="none" stroke="#000" stroke-width="1.2" stroke-linejoin="round" stroke-linecap="butt"/>
<path d="M400.5,385.2 C400.98,384.85 402.7,384.58 403.4,383.1 C404.1,381.62 404.25,378.8 404.7,376.3 C405.15,373.8 405.65,371.28 406.1,368.1 C406.55,364.92 407,361.28 407.4,357.2 C407.8,353.12 408.15,348.13 408.5,343.6 C408.85,339.07 409.22,334.53 409.5,330 C409.78,325.47 409.98,320.48 410.2,316.4 C410.42,312.32 410.58,308.45 410.8,305.5 C411.02,302.55 411.12,300.37 411.5,298.7 C411.88,297.03 412.53,295.5 413.1,295.5 C413.67,295.5 414.43,296.35 414.9,298.7 C415.37,301.05 415.6,305.52 415.9,309.6 C416.2,313.68 416.42,318.67 416.7,323.2 C416.98,327.73 417.28,332.27 417.6,336.8 C417.92,341.33 418.22,345.87 418.6,350.4 C418.98,354.93 419.38,359.92 419.9,364 C420.42,368.08 420.95,371.72 421.7,374.9 C422.45,378.08 423.48,381.48 424.4,383.1 C425.32,384.72 425.68,384.25 427.2,384.6 C428.72,384.95 432.45,385.1 433.5,385.2" fill="none" stroke="#111" stroke-width="1.6" stroke-dasharray="3.2 1.6" stroke-linejoin="round" stroke-linecap="butt"/>
<line x1="377" y1="290.4" x2="377" y2="385.8" stroke="#000" stroke-width="1.3" />
<line x1="370" y1="385.5" x2="377" y2="385.5" stroke="#000" stroke-width="1.1" />
<line x1="373.3" y1="381.5" x2="377" y2="381.5" stroke="#000" stroke-width="1.0" />
<line x1="373.3" y1="377.5" x2="377" y2="377.5" stroke="#000" stroke-width="1.0" />
<line x1="373.3" y1="373.5" x2="377" y2="373.5" stroke="#000" stroke-width="1.0" />
<line x1="373.3" y1="370.5" x2="377" y2="370.5" stroke="#000" stroke-width="1.0" />
<line x1="370" y1="366.5" x2="377" y2="366.5" stroke="#000" stroke-width="1.1" />
<line x1="373.3" y1="362.5" x2="377" y2="362.5" stroke="#000" stroke-width="1.0" />
<line x1="373.3" y1="358.5" x2="377" y2="358.5" stroke="#000" stroke-width="1.0" />
<line x1="373.3" y1="354.5" x2="377" y2="354.5" stroke="#000" stroke-width="1.0" />
<line x1="373.3" y1="351.5" x2="377" y2="351.5" stroke="#000" stroke-width="1.0" />
<line x1="370" y1="347.5" x2="377" y2="347.5" stroke="#000" stroke-width="1.1" />
<line x1="373.3" y1="343.5" x2="377" y2="343.5" stroke="#000" stroke-width="1.0" />
<line x1="373.3" y1="339.5" x2="377" y2="339.5" stroke="#000" stroke-width="1.0" />
<line x1="373.3" y1="335.5" x2="377" y2="335.5" stroke="#000" stroke-width="1.0" />
<line x1="373.3" y1="332.5" x2="377" y2="332.5" stroke="#000" stroke-width="1.0" />
<line x1="370" y1="328.5" x2="377" y2="328.5" stroke="#000" stroke-width="1.1" />
<line x1="373.3" y1="324.5" x2="377" y2="324.5" stroke="#000" stroke-width="1.0" />
<line x1="373.3" y1="320.5" x2="377" y2="320.5" stroke="#000" stroke-width="1.0" />
<line x1="373.3" y1="316.5" x2="377" y2="316.5" stroke="#000" stroke-width="1.0" />
<line x1="373.3" y1="313.5" x2="377" y2="313.5" stroke="#000" stroke-width="1.0" />
<line x1="370" y1="309.5" x2="377" y2="309.5" stroke="#000" stroke-width="1.1" />
<line x1="373.3" y1="305.5" x2="377" y2="305.5" stroke="#000" stroke-width="1.0" />
<line x1="373.3" y1="301.5" x2="377" y2="301.5" stroke="#000" stroke-width="1.0" />
<line x1="373.3" y1="297.5" x2="377" y2="297.5" stroke="#000" stroke-width="1.0" />
<line x1="373.3" y1="294.5" x2="377" y2="294.5" stroke="#000" stroke-width="1.0" />
<line x1="370" y1="290.5" x2="377" y2="290.5" stroke="#000" stroke-width="1.1" />
<line x1="376.4" y1="385.2" x2="495.9" y2="385.2" stroke="#000" stroke-width="1.3" />
<line x1="377.5" y1="385.2" x2="377.5" y2="392" stroke="#000" stroke-width="1.1" />
<line x1="385.5" y1="385.2" x2="385.5" y2="389.2" stroke="#000" stroke-width="1.0" />
<line x1="390.5" y1="385.2" x2="390.5" y2="389.2" stroke="#000" stroke-width="1.0" />
<line x1="394.5" y1="385.2" x2="394.5" y2="389.2" stroke="#000" stroke-width="1.0" />
<line x1="397.5" y1="385.2" x2="397.5" y2="389.2" stroke="#000" stroke-width="1.0" />
<line x1="399.5" y1="385.2" x2="399.5" y2="389.2" stroke="#000" stroke-width="1.0" />
<line x1="401.5" y1="385.2" x2="401.5" y2="389.2" stroke="#000" stroke-width="1.0" />
<line x1="403.5" y1="385.2" x2="403.5" y2="389.2" stroke="#000" stroke-width="1.0" />
<line x1="404.5" y1="385.2" x2="404.5" y2="389.2" stroke="#000" stroke-width="1.0" />
<line x1="406.5" y1="385.2" x2="406.5" y2="392" stroke="#000" stroke-width="1.1" />
<line x1="415.5" y1="385.2" x2="415.5" y2="389.2" stroke="#000" stroke-width="1.0" />
<line x1="420.5" y1="385.2" x2="420.5" y2="389.2" stroke="#000" stroke-width="1.0" />
<line x1="424.5" y1="385.2" x2="424.5" y2="389.2" stroke="#000" stroke-width="1.0" />
<line x1="426.5" y1="385.2" x2="426.5" y2="389.2" stroke="#000" stroke-width="1.0" />
<line x1="429.5" y1="385.2" x2="429.5" y2="389.2" stroke="#000" stroke-width="1.0" />
<line x1="431.5" y1="385.2" x2="431.5" y2="389.2" stroke="#000" stroke-width="1.0" />
<line x1="432.5" y1="385.2" x2="432.5" y2="389.2" stroke="#000" stroke-width="1.0" />
<line x1="434.5" y1="385.2" x2="434.5" y2="389.2" stroke="#000" stroke-width="1.0" />
<line x1="435.5" y1="385.2" x2="435.5" y2="392" stroke="#000" stroke-width="1.1" />
<line x1="444.5" y1="385.2" x2="444.5" y2="389.2" stroke="#000" stroke-width="1.0" />
<line x1="449.5" y1="385.2" x2="449.5" y2="389.2" stroke="#000" stroke-width="1.0" />
<line x1="453.5" y1="385.2" x2="453.5" y2="389.2" stroke="#000" stroke-width="1.0" />
<line x1="456.5" y1="385.2" x2="456.5" y2="389.2" stroke="#000" stroke-width="1.0" />
<line x1="458.5" y1="385.2" x2="458.5" y2="389.2" stroke="#000" stroke-width="1.0" />
<line x1="460.5" y1="385.2" x2="460.5" y2="389.2" stroke="#000" stroke-width="1.0" />
<line x1="461.5" y1="385.2" x2="461.5" y2="389.2" stroke="#000" stroke-width="1.0" />
<line x1="463.5" y1="385.2" x2="463.5" y2="389.2" stroke="#000" stroke-width="1.0" />
<line x1="464.5" y1="385.2" x2="464.5" y2="392" stroke="#000" stroke-width="1.1" />
<line x1="473.5" y1="385.2" x2="473.5" y2="389.2" stroke="#000" stroke-width="1.0" />
<line x1="478.5" y1="385.2" x2="478.5" y2="389.2" stroke="#000" stroke-width="1.0" />
<line x1="482.5" y1="385.2" x2="482.5" y2="389.2" stroke="#000" stroke-width="1.0" />
<line x1="485.5" y1="385.2" x2="485.5" y2="389.2" stroke="#000" stroke-width="1.0" />
<line x1="487.5" y1="385.2" x2="487.5" y2="389.2" stroke="#000" stroke-width="1.0" />
<line x1="489.5" y1="385.2" x2="489.5" y2="389.2" stroke="#000" stroke-width="1.0" />
<line x1="491.5" y1="385.2" x2="491.5" y2="389.2" stroke="#000" stroke-width="1.0" />
<line x1="493.5" y1="385.2" x2="493.5" y2="389.2" stroke="#000" stroke-width="1.0" />
<line x1="494.5" y1="385.2" x2="494.5" y2="392" stroke="#000" stroke-width="1.1" />
<rect x="443.4" y="301.8" width="62.4" height="37.6" fill="#fff" stroke="#000" stroke-width="1.2"/>
<line x1="453" y1="314.2" x2="467" y2="314.2" stroke="#000" stroke-width="2.3" />
<line x1="453" y1="327.6" x2="467" y2="327.6" stroke="#000" stroke-width="2.1" stroke-dasharray="2 1.8"/>
<text x="475.4" y="318.7" style="font-family:'Liberation Serif',serif;font-size:12.8px;font-weight:normal" text-anchor="start" >Nil</text>
<text x="475.4" y="332.1" style="font-family:'Liberation Serif',serif;font-size:12.8px;font-weight:normal" text-anchor="start" >IL-6</text>
<text x="371.8" y="409.4" style="font-family:'Liberation Serif',serif;font-size:12.8px">10<tspan dy="-4.8" style="font-size:8.5px">0</tspan></text>
<text x="400.9" y="409.4" style="font-family:'Liberation Serif',serif;font-size:12.8px">10<tspan dy="-4.8" style="font-size:8.5px">1</tspan></text>
<text x="426.5" y="409.4" style="font-family:'Liberation Serif',serif;font-size:12.8px">10<tspan dy="-4.8" style="font-size:8.5px">2</tspan></text>
<text x="456.1" y="409.4" style="font-family:'Liberation Serif',serif;font-size:12.8px">10<tspan dy="-4.8" style="font-size:8.5px">3</tspan></text>
<text x="485.7" y="409.4" style="font-family:'Liberation Serif',serif;font-size:12.8px">10<tspan dy="-4.8" style="font-size:8.5px">4</tspan></text>
<text x="120.3" y="432.6" style="font-family:'Liberation Serif',serif;font-size:13.5px;font-weight:bold" text-anchor="middle" >uPAR</text>
<text x="283.4" y="432.9" style="font-family:'Liberation Serif',serif;font-size:13.5px;font-weight:bold" text-anchor="middle" >CD11b</text>
<text x="441" y="432.6" style="font-family:'Liberation Serif',serif;font-size:13.5px;font-weight:bold" text-anchor="middle" >CD18</text>
<line x1="75.1" y1="481.3" x2="75.1" y2="578.3" stroke="#000" stroke-width="1.35" />
<line x1="74.6" y1="577.8" x2="192" y2="577.8" stroke="#000" stroke-width="1.35" />
<line x1="72.9" y1="569" x2="75.1" y2="569" stroke="#000" stroke-width="1" />
<line x1="72.9" y1="551.52" x2="75.1" y2="551.52" stroke="#000" stroke-width="1" />
<line x1="72.9" y1="534.04" x2="75.1" y2="534.04" stroke="#000" stroke-width="1" />
<line x1="72.9" y1="516.56" x2="75.1" y2="516.56" stroke="#000" stroke-width="1" />
<line x1="72.9" y1="499.08" x2="75.1" y2="499.08" stroke="#000" stroke-width="1" />
<line x1="72.9" y1="481.6" x2="75.1" y2="481.6" stroke="#000" stroke-width="1" />
<text x="70.1" y="484.1" style="font-family:'Liberation Serif',serif;font-size:11.6px;font-weight:normal" text-anchor="end" >10</text>
<text x="70.1" y="501.58" style="font-family:'Liberation Serif',serif;font-size:11.6px;font-weight:normal" text-anchor="end" >8</text>
<text x="70.1" y="519.06" style="font-family:'Liberation Serif',serif;font-size:11.6px;font-weight:normal" text-anchor="end" >6</text>
<text x="70.1" y="536.54" style="font-family:'Liberation Serif',serif;font-size:11.6px;font-weight:normal" text-anchor="end" >4</text>
<text x="70.1" y="554.02" style="font-family:'Liberation Serif',serif;font-size:11.6px;font-weight:normal" text-anchor="end" >2</text>
<text x="70.1" y="571.5" style="font-family:'Liberation Serif',serif;font-size:11.6px;font-weight:normal" text-anchor="end" >0</text>
<line x1="75.1" y1="577.8" x2="75.1" y2="580" stroke="#000" stroke-width="1" />
<line x1="96.9" y1="577.8" x2="96.9" y2="580" stroke="#000" stroke-width="1" />
<line x1="118.7" y1="577.8" x2="118.7" y2="580" stroke="#000" stroke-width="1" />
<line x1="140.5" y1="577.8" x2="140.5" y2="580" stroke="#000" stroke-width="1" />
<line x1="162.3" y1="577.8" x2="162.3" y2="580" stroke="#000" stroke-width="1" />
<line x1="184.1" y1="577.8" x2="184.1" y2="580" stroke="#000" stroke-width="1" />
<polyline points="74.8,567.78 96.6,567.51 118.4,567.51 140.2,567.51 162,567.51 183.8,567.51" fill="none" stroke="#000" stroke-width="1.3" stroke-linejoin="round"/>
<polyline points="77.5,567.78 99.3,567.95 121.1,567.95 142.9,567.95 164.7,567.95 186.5,567.95" fill="none" stroke="#000" stroke-width="1.3" stroke-linejoin="round"/>
<polyline points="75.1,567.78 96.9,563.76 118.7,555.02 140.5,543.3 162.3,538.32 184.1,537.89" fill="none" stroke="#000" stroke-width="1.3" stroke-linejoin="round"/>
<polyline points="75.1,567.78 96.9,559.47 118.7,532.03 140.5,513.33 162.3,503.19 184.1,494.27" fill="none" stroke="#000" stroke-width="1.3" stroke-linejoin="round"/>
<line x1="140.5" y1="505.55" x2="140.5" y2="521.1" stroke="#000" stroke-width="1.1" />
<line x1="138.9" y1="505.55" x2="142.1" y2="505.55" stroke="#000" stroke-width="1.2" />
<line x1="138.9" y1="521.1" x2="142.1" y2="521.1" stroke="#000" stroke-width="1.2" />
<line x1="162.3" y1="497.94" x2="162.3" y2="508.43" stroke="#000" stroke-width="1.1" />
<line x1="160.7" y1="497.94" x2="163.9" y2="497.94" stroke="#000" stroke-width="1.2" />
<line x1="160.7" y1="508.43" x2="163.9" y2="508.43" stroke="#000" stroke-width="1.2" />
<line x1="184.1" y1="488.15" x2="184.1" y2="500.39" stroke="#000" stroke-width="1.1" />
<line x1="182.5" y1="488.15" x2="185.7" y2="488.15" stroke="#000" stroke-width="1.2" />
<line x1="182.5" y1="500.39" x2="185.7" y2="500.39" stroke="#000" stroke-width="1.2" />
<rect x="93.9" y="564.81" width="5.4" height="5.4" fill="#fff" stroke="#000" stroke-width="1.2"/>
<rect x="115.7" y="564.81" width="5.4" height="5.4" fill="#fff" stroke="#000" stroke-width="1.2"/>
<rect x="137.5" y="564.81" width="5.4" height="5.4" fill="#fff" stroke="#000" stroke-width="1.2"/>
<rect x="159.3" y="564.81" width="5.4" height="5.4" fill="#fff" stroke="#000" stroke-width="1.2"/>
<rect x="181.1" y="564.81" width="5.4" height="5.4" fill="#fff" stroke="#000" stroke-width="1.2"/>
<polygon points="95.65,571.45 102.95,571.45 99.3,564.15" fill="#000"/>
<polygon points="117.45,571.45 124.75,571.45 121.1,564.15" fill="#000"/>
<polygon points="139.25,571.45 146.55,571.45 142.9,564.15" fill="#000"/>
<polygon points="161.05,571.45 168.35,571.45 164.7,564.15" fill="#000"/>
<polygon points="182.85,571.45 190.15,571.45 186.5,564.15" fill="#000"/>
<circle cx="96.9" cy="559.47" r="2.65" fill="#fff" stroke="#000" stroke-width="1.4"/>
<circle cx="118.7" cy="532.03" r="2.65" fill="#fff" stroke="#000" stroke-width="1.4"/>
<circle cx="140.5" cy="513.33" r="2.65" fill="#fff" stroke="#000" stroke-width="1.4"/>
<circle cx="162.3" cy="503.19" r="2.65" fill="#fff" stroke="#000" stroke-width="1.4"/>
<circle cx="184.1" cy="494.27" r="2.65" fill="#fff" stroke="#000" stroke-width="1.4"/>
<polygon points="93.3,560.26 100.5,560.26 96.9,567.56" fill="#000"/>
<polygon points="115.1,551.52 122.3,551.52 118.7,558.82" fill="#000"/>
<polygon points="136.9,539.8 144.1,539.8 140.5,547.1" fill="#000"/>
<polygon points="158.7,534.82 165.9,534.82 162.3,542.12" fill="#000"/>
<polygon points="180.5,534.39 187.7,534.39 184.1,541.69" fill="#000"/>
<circle cx="75.1" cy="567.78" r="2.65" fill="#fff" stroke="#000" stroke-width="1.4"/>
<text x="87" y="499.1" style="font-family:'Liberation Serif',serif;font-size:12.7px;font-weight:bold" text-anchor="start" >PMA</text>
<line x1="221" y1="479.3" x2="221" y2="578.5" stroke="#000" stroke-width="1.35" />
<line x1="220.5" y1="578" x2="346" y2="578" stroke="#000" stroke-width="1.35" />
<line x1="218.8" y1="578" x2="221" y2="578" stroke="#000" stroke-width="1" />
<line x1="218.8" y1="556.5" x2="221" y2="556.5" stroke="#000" stroke-width="1" />
<line x1="218.8" y1="535" x2="221" y2="535" stroke="#000" stroke-width="1" />
<line x1="218.8" y1="513.5" x2="221" y2="513.5" stroke="#000" stroke-width="1" />
<line x1="218.8" y1="492" x2="221" y2="492" stroke="#000" stroke-width="1" />
<text x="218.5" y="496.2" style="font-family:'Liberation Serif',serif;font-size:12.4px;font-weight:normal" text-anchor="end" >4</text>
<text x="218.5" y="518.3" style="font-family:'Liberation Serif',serif;font-size:12.4px;font-weight:normal" text-anchor="end" >3</text>
<text x="218.5" y="539.7" style="font-family:'Liberation Serif',serif;font-size:12.4px;font-weight:normal" text-anchor="end" >2</text>
<text x="218.5" y="561.4" style="font-family:'Liberation Serif',serif;font-size:12.4px;font-weight:normal" text-anchor="end" >1</text>
<text x="218.5" y="582.4" style="font-family:'Liberation Serif',serif;font-size:12.4px;font-weight:normal" text-anchor="end" >0</text>
<line x1="221" y1="578" x2="221" y2="580.2" stroke="#000" stroke-width="1" />
<line x1="244.9" y1="578" x2="244.9" y2="580.2" stroke="#000" stroke-width="1" />
<line x1="268.8" y1="578" x2="268.8" y2="580.2" stroke="#000" stroke-width="1" />
<line x1="292.7" y1="578" x2="292.7" y2="580.2" stroke="#000" stroke-width="1" />
<line x1="316.6" y1="578" x2="316.6" y2="580.2" stroke="#000" stroke-width="1" />
<line x1="340.5" y1="578" x2="340.5" y2="580.2" stroke="#000" stroke-width="1" />
<polyline points="220.7,577.78 244.6,573.7 268.5,573.7 292.4,573.7 316.3,573.7 340.2,573.7" fill="none" stroke="#000" stroke-width="1.3" stroke-linejoin="round"/>
<polyline points="223.4,577.78 247.3,575.85 271.2,575.85 295.1,575.85 319,575.85 342.9,575.85" fill="none" stroke="#000" stroke-width="1.3" stroke-linejoin="round"/>
<polyline points="221,577.78 244.9,575.42 268.8,561.66 292.7,550.7 316.6,546.39 340.5,537.58" fill="none" stroke="#000" stroke-width="1.3" stroke-linejoin="round"/>
<polyline points="221,577.78 244.9,572.41 268.8,543.82 292.7,531.56 316.6,519.09 340.5,493.72" fill="none" stroke="#000" stroke-width="1.3" stroke-linejoin="round"/>
<line x1="292.7" y1="525.11" x2="292.7" y2="531.56" stroke="#000" stroke-width="1.1" />
<line x1="291.1" y1="525.11" x2="294.3" y2="525.11" stroke="#000" stroke-width="1.2" />
<line x1="316.6" y1="513.28" x2="316.6" y2="519.09" stroke="#000" stroke-width="1.1" />
<line x1="315" y1="513.28" x2="318.2" y2="513.28" stroke="#000" stroke-width="1.2" />
<line x1="340.5" y1="486.19" x2="340.5" y2="493.72" stroke="#000" stroke-width="1.1" />
<line x1="338.9" y1="486.19" x2="342.1" y2="486.19" stroke="#000" stroke-width="1.2" />
<rect x="241.9" y="571" width="5.4" height="5.4" fill="#fff" stroke="#000" stroke-width="1.2"/>
<rect x="265.8" y="571" width="5.4" height="5.4" fill="#fff" stroke="#000" stroke-width="1.2"/>
<rect x="289.7" y="571" width="5.4" height="5.4" fill="#fff" stroke="#000" stroke-width="1.2"/>
<rect x="313.6" y="571" width="5.4" height="5.4" fill="#fff" stroke="#000" stroke-width="1.2"/>
<rect x="337.5" y="571" width="5.4" height="5.4" fill="#fff" stroke="#000" stroke-width="1.2"/>
<polygon points="243.65,579.35 250.95,579.35 247.3,572.05" fill="#000"/>
<polygon points="267.55,579.35 274.85,579.35 271.2,572.05" fill="#000"/>
<polygon points="291.45,579.35 298.75,579.35 295.1,572.05" fill="#000"/>
<polygon points="315.35,579.35 322.65,579.35 319,572.05" fill="#000"/>
<polygon points="339.25,579.35 346.55,579.35 342.9,572.05" fill="#000"/>
<circle cx="244.9" cy="572.41" r="2.65" fill="#fff" stroke="#000" stroke-width="1.4"/>
<circle cx="268.8" cy="543.82" r="2.65" fill="#fff" stroke="#000" stroke-width="1.4"/>
<circle cx="292.7" cy="531.56" r="2.65" fill="#fff" stroke="#000" stroke-width="1.4"/>
<circle cx="316.6" cy="519.09" r="2.65" fill="#fff" stroke="#000" stroke-width="1.4"/>
<circle cx="340.5" cy="493.72" r="2.65" fill="#fff" stroke="#000" stroke-width="1.4"/>
<polygon points="241.3,571.92 248.5,571.92 244.9,579.22" fill="#000"/>
<polygon points="265.2,558.16 272.4,558.16 268.8,565.46" fill="#000"/>
<polygon points="289.1,547.2 296.3,547.2 292.7,554.5" fill="#000"/>
<polygon points="313,542.89 320.2,542.89 316.6,550.19" fill="#000"/>
<polygon points="336.9,534.08 344.1,534.08 340.5,541.38" fill="#000"/>
<circle cx="221" cy="577.78" r="2.65" fill="#fff" stroke="#000" stroke-width="1.4"/>
<text x="234" y="498.9" style="font-family:'Liberation Serif',serif;font-size:12.5px;font-weight:bold" text-anchor="start" >TNF-<tspan style="font-weight:normal">α</tspan></text>
<line x1="364.2" y1="487.8" x2="364.2" y2="578.3" stroke="#000" stroke-width="1.35" />
<line x1="363.7" y1="577.8" x2="484" y2="577.8" stroke="#000" stroke-width="1.35" />
<line x1="362" y1="573.6" x2="364.2" y2="573.6" stroke="#000" stroke-width="1" />
<line x1="362" y1="556.4" x2="364.2" y2="556.4" stroke="#000" stroke-width="1" />
<line x1="362" y1="539.2" x2="364.2" y2="539.2" stroke="#000" stroke-width="1" />
<line x1="362" y1="522" x2="364.2" y2="522" stroke="#000" stroke-width="1" />
<line x1="362" y1="504.8" x2="364.2" y2="504.8" stroke="#000" stroke-width="1" />
<line x1="362" y1="487.6" x2="364.2" y2="487.6" stroke="#000" stroke-width="1" />
<line x1="362.4" y1="565" x2="364.2" y2="565" stroke="#000" stroke-width="0.9" />
<line x1="362.4" y1="547.8" x2="364.2" y2="547.8" stroke="#000" stroke-width="0.9" />
<line x1="362.4" y1="530.6" x2="364.2" y2="530.6" stroke="#000" stroke-width="0.9" />
<line x1="362.4" y1="513.4" x2="364.2" y2="513.4" stroke="#000" stroke-width="0.9" />
<line x1="362.4" y1="496.2" x2="364.2" y2="496.2" stroke="#000" stroke-width="0.9" />
<text x="359.5" y="492.5" style="font-family:'Liberation Serif',serif;font-size:10.4px;font-weight:normal" text-anchor="end" >5</text>
<text x="359.5" y="509.7" style="font-family:'Liberation Serif',serif;font-size:10.4px;font-weight:normal" text-anchor="end" >4</text>
<text x="359.5" y="526.9" style="font-family:'Liberation Serif',serif;font-size:10.4px;font-weight:normal" text-anchor="end" >3</text>
<text x="359.5" y="544.1" style="font-family:'Liberation Serif',serif;font-size:10.4px;font-weight:normal" text-anchor="end" >2</text>
<text x="359.5" y="561.3" style="font-family:'Liberation Serif',serif;font-size:10.4px;font-weight:normal" text-anchor="end" >1</text>
<text x="359.5" y="575.1" style="font-family:'Liberation Serif',serif;font-size:10.4px;font-weight:normal" text-anchor="end" >0</text>
<line x1="364.2" y1="577.8" x2="364.2" y2="580" stroke="#000" stroke-width="1" />
<line x1="385.95" y1="577.8" x2="385.95" y2="580" stroke="#000" stroke-width="1" />
<line x1="407.7" y1="577.8" x2="407.7" y2="580" stroke="#000" stroke-width="1" />
<line x1="429.45" y1="577.8" x2="429.45" y2="580" stroke="#000" stroke-width="1" />
<line x1="451.2" y1="577.8" x2="451.2" y2="580" stroke="#000" stroke-width="1" />
<line x1="472.95" y1="577.8" x2="472.95" y2="580" stroke="#000" stroke-width="1" />
<text x="365.9" y="591.6" style="font-family:'Liberation Serif',serif;font-size:12.8px;font-weight:normal" text-anchor="middle" >0</text>
<text x="387.6" y="591.6" style="font-family:'Liberation Serif',serif;font-size:12.8px;font-weight:normal" text-anchor="middle" >1</text>
<text x="408.8" y="591.6" style="font-family:'Liberation Serif',serif;font-size:12.8px;font-weight:normal" text-anchor="middle" >2</text>
<text x="430.1" y="591.6" style="font-family:'Liberation Serif',serif;font-size:12.8px;font-weight:normal" text-anchor="middle" >3</text>
<text x="452" y="591.6" style="font-family:'Liberation Serif',serif;font-size:12.8px;font-weight:normal" text-anchor="middle" >4</text>
<text x="473.6" y="591.6" style="font-family:'Liberation Serif',serif;font-size:12.8px;font-weight:normal" text-anchor="middle" >5</text>
<polyline points="363.9,571.19 385.65,571.54 407.4,571.54 429.15,571.54 450.9,571.54 472.65,571.54" fill="none" stroke="#000" stroke-width="1.4" stroke-linejoin="round"/>
<polyline points="366.6,571.19 388.35,571.88 410.1,571.88 431.85,571.88 453.6,571.88 475.35,571.88" fill="none" stroke="#000" stroke-width="1.4" stroke-linejoin="round"/>
<polyline points="364.2,571.19 385.95,565 407.7,556.4 429.45,543.5 451.2,527.33 472.95,504.11" fill="none" stroke="#000" stroke-width="1.4" stroke-linejoin="round"/>
<polyline points="364.2,571.19 385.95,563.28 407.7,554.34 429.45,539.54 451.2,525.78 472.95,500.33" fill="none" stroke="#000" stroke-width="1.4" stroke-linejoin="round"/>
<line x1="472.95" y1="496.2" x2="472.95" y2="508.24" stroke="#000" stroke-width="1.1" />
<line x1="471.35" y1="496.2" x2="474.55" y2="496.2" stroke="#000" stroke-width="1.2" />
<line x1="471.35" y1="508.24" x2="474.55" y2="508.24" stroke="#000" stroke-width="1.2" />
<rect x="382.95" y="568.84" width="5.4" height="5.4" fill="#fff" stroke="#000" stroke-width="1.2"/>
<rect x="404.7" y="568.84" width="5.4" height="5.4" fill="#fff" stroke="#000" stroke-width="1.2"/>
<rect x="426.45" y="568.84" width="5.4" height="5.4" fill="#fff" stroke="#000" stroke-width="1.2"/>
<rect x="448.2" y="568.84" width="5.4" height="5.4" fill="#fff" stroke="#000" stroke-width="1.2"/>
<rect x="469.95" y="568.84" width="5.4" height="5.4" fill="#fff" stroke="#000" stroke-width="1.2"/>
<polygon points="384.7,575.38 392,575.38 388.35,568.08" fill="#000"/>
<polygon points="406.45,575.38 413.75,575.38 410.1,568.08" fill="#000"/>
<polygon points="428.2,575.38 435.5,575.38 431.85,568.08" fill="#000"/>
<polygon points="449.95,575.38 457.25,575.38 453.6,568.08" fill="#000"/>
<polygon points="471.7,575.38 479,575.38 475.35,568.08" fill="#000"/>
<circle cx="385.95" cy="563.28" r="2.65" fill="#fff" stroke="#000" stroke-width="1.4"/>
<circle cx="407.7" cy="554.34" r="2.65" fill="#fff" stroke="#000" stroke-width="1.4"/>
<circle cx="429.45" cy="539.54" r="2.65" fill="#fff" stroke="#000" stroke-width="1.4"/>
<circle cx="451.2" cy="525.78" r="2.65" fill="#fff" stroke="#000" stroke-width="1.4"/>
<circle cx="472.95" cy="500.33" r="2.65" fill="#fff" stroke="#000" stroke-width="1.4"/>
<polygon points="382.35,561.5 389.55,561.5 385.95,568.8" fill="#000"/>
<polygon points="404.1,552.9 411.3,552.9 407.7,560.2" fill="#000"/>
<polygon points="425.85,540 433.05,540 429.45,547.3" fill="#000"/>
<polygon points="447.6,523.83 454.8,523.83 451.2,531.13" fill="#000"/>
<polygon points="469.35,500.61 476.55,500.61 472.95,507.91" fill="#000"/>
<circle cx="364.2" cy="571.19" r="2.65" fill="#fff" stroke="#000" stroke-width="1.4"/>
<text x="373.8" y="498.8" style="font-family:'Liberation Serif',serif;font-size:12.5px;font-weight:bold" text-anchor="start" >IL-6</text>
<line x1="75.1" y1="599" x2="75.1" y2="699.2" stroke="#000" stroke-width="1.35" />
<line x1="74.6" y1="698.7" x2="190.5" y2="698.7" stroke="#000" stroke-width="1.35" />
<line x1="72.9" y1="698.7" x2="75.1" y2="698.7" stroke="#000" stroke-width="1" />
<line x1="72.9" y1="674.4" x2="75.1" y2="674.4" stroke="#000" stroke-width="1" />
<line x1="72.9" y1="650.1" x2="75.1" y2="650.1" stroke="#000" stroke-width="1" />
<line x1="72.9" y1="625.8" x2="75.1" y2="625.8" stroke="#000" stroke-width="1" />
<line x1="72.9" y1="601.5" x2="75.1" y2="601.5" stroke="#000" stroke-width="1" />
<line x1="73.3" y1="686.55" x2="75.1" y2="686.55" stroke="#000" stroke-width="0.9" />
<line x1="73.3" y1="662.25" x2="75.1" y2="662.25" stroke="#000" stroke-width="0.9" />
<line x1="73.3" y1="637.95" x2="75.1" y2="637.95" stroke="#000" stroke-width="0.9" />
<line x1="73.3" y1="613.65" x2="75.1" y2="613.65" stroke="#000" stroke-width="0.9" />
<text x="55.9" y="604.4" style="font-family:'Liberation Serif',serif;font-size:11.8px;font-weight:normal" text-anchor="start" >1.6</text>
<text x="55.9" y="628.6" style="font-family:'Liberation Serif',serif;font-size:11.8px;font-weight:normal" text-anchor="start" >1.2</text>
<text x="55.9" y="652.7" style="font-family:'Liberation Serif',serif;font-size:11.8px;font-weight:normal" text-anchor="start" >0.8</text>
<text x="55.9" y="678" style="font-family:'Liberation Serif',serif;font-size:11.8px;font-weight:normal" text-anchor="start" >0.4</text>
<text x="55.8" y="703.3" style="font-family:'Liberation Serif',serif;font-size:11.8px;font-weight:normal" text-anchor="start" >0</text>
<line x1="75.1" y1="698.7" x2="75.1" y2="700.9" stroke="#000" stroke-width="1" />
<line x1="98" y1="698.7" x2="98" y2="700.9" stroke="#000" stroke-width="1" />
<line x1="120.9" y1="698.7" x2="120.9" y2="700.9" stroke="#000" stroke-width="1" />
<line x1="143.8" y1="698.7" x2="143.8" y2="700.9" stroke="#000" stroke-width="1" />
<line x1="166.7" y1="698.7" x2="166.7" y2="700.9" stroke="#000" stroke-width="1" />
<line x1="189.6" y1="698.7" x2="189.6" y2="700.9" stroke="#000" stroke-width="1" />
<text x="76.4" y="714" style="font-family:'Liberation Serif',serif;font-size:12.8px;font-weight:normal" text-anchor="middle" >0</text>
<text x="98.9" y="714" style="font-family:'Liberation Serif',serif;font-size:12.8px;font-weight:normal" text-anchor="middle" >1</text>
<text x="122" y="714" style="font-family:'Liberation Serif',serif;font-size:12.8px;font-weight:normal" text-anchor="middle" >2</text>
<text x="145.1" y="714" style="font-family:'Liberation Serif',serif;font-size:12.8px;font-weight:normal" text-anchor="middle" >3</text>
<text x="167.3" y="714" style="font-family:'Liberation Serif',serif;font-size:12.8px;font-weight:normal" text-anchor="middle" >4</text>
<text x="190.7" y="714" style="font-family:'Liberation Serif',serif;font-size:12.8px;font-weight:normal" text-anchor="middle" >5</text>
<polyline points="74.8,698.27 97.7,690.8 120.6,690.8 143.5,690.8 166.4,690.5 189.3,690.8" fill="none" stroke="#000" stroke-width="1.3" stroke-linejoin="round"/>
<polyline points="77.5,698.27 100.4,691.41 123.3,691.41 146.2,691.41 169.1,691.11 192,691.41" fill="none" stroke="#000" stroke-width="1.3" stroke-linejoin="round"/>
<polyline points="75.1,698.27 98,690.01 120.9,679.14 143.8,647.49 166.7,631.88 189.6,615.78" fill="none" stroke="#000" stroke-width="1.3" stroke-linejoin="round"/>
<polyline points="75.1,698.27 98,690.01 120.9,679.14 143.8,645 166.7,627.32 189.6,610.01" fill="none" stroke="#000" stroke-width="1.3" stroke-linejoin="round"/>
<line x1="143.8" y1="641.35" x2="143.8" y2="645" stroke="#000" stroke-width="1.1" />
<line x1="142.2" y1="641.35" x2="145.4" y2="641.35" stroke="#000" stroke-width="1.2" />
<line x1="166.7" y1="622.46" x2="166.7" y2="627.32" stroke="#000" stroke-width="1.1" />
<line x1="165.1" y1="622.46" x2="168.3" y2="622.46" stroke="#000" stroke-width="1.2" />
<rect x="95" y="688.1" width="5.4" height="5.4" fill="#fff" stroke="#000" stroke-width="1.2"/>
<rect x="117.9" y="688.1" width="5.4" height="5.4" fill="#fff" stroke="#000" stroke-width="1.2"/>
<rect x="140.8" y="688.1" width="5.4" height="5.4" fill="#fff" stroke="#000" stroke-width="1.2"/>
<rect x="163.7" y="687.8" width="5.4" height="5.4" fill="#fff" stroke="#000" stroke-width="1.2"/>
<rect x="186.6" y="688.1" width="5.4" height="5.4" fill="#fff" stroke="#000" stroke-width="1.2"/>
<polygon points="96.75,694.91 104.05,694.91 100.4,687.61" fill="#000"/>
<polygon points="119.65,694.91 126.95,694.91 123.3,687.61" fill="#000"/>
<polygon points="142.55,694.91 149.85,694.91 146.2,687.61" fill="#000"/>
<polygon points="165.45,694.61 172.75,694.61 169.1,687.31" fill="#000"/>
<polygon points="188.35,694.91 195.65,694.91 192,687.61" fill="#000"/>
<circle cx="98" cy="690.01" r="2.65" fill="#fff" stroke="#000" stroke-width="1.4"/>
<circle cx="120.9" cy="679.14" r="2.65" fill="#fff" stroke="#000" stroke-width="1.4"/>
<circle cx="143.8" cy="645" r="2.65" fill="#fff" stroke="#000" stroke-width="1.4"/>
<circle cx="166.7" cy="627.32" r="2.65" fill="#fff" stroke="#000" stroke-width="1.4"/>
<circle cx="189.6" cy="610.01" r="2.65" fill="#fff" stroke="#000" stroke-width="1.4"/>
<polygon points="140.2,643.99 147.4,643.99 143.8,651.29" fill="#000"/>
<polygon points="163.1,628.38 170.3,628.38 166.7,635.67" fill="#000"/>
<polygon points="186,612.28 193.2,612.28 189.6,619.58" fill="#000"/>
<circle cx="75.1" cy="698.27" r="2.65" fill="#fff" stroke="#000" stroke-width="1.4"/>
<text x="87" y="616.7" style="font-family:'Liberation Serif',serif;font-size:12.8px;font-weight:bold" text-anchor="start" textLength="49" lengthAdjust="spacingAndGlyphs">GM-CSF</text>
<text x="83.6" y="631.8" style="font-family:'Liberation Serif',serif;font-size:12.8px;font-weight:bold" text-anchor="start" >+ LPS</text>
<line x1="221.6" y1="599.2" x2="221.6" y2="699.1" stroke="#000" stroke-width="1.35" />
<line x1="221.1" y1="698.6" x2="336" y2="698.6" stroke="#000" stroke-width="1.35" />
<line x1="219.4" y1="699.6" x2="221.6" y2="699.6" stroke="#000" stroke-width="1" />
<line x1="219.4" y1="685.62" x2="221.6" y2="685.62" stroke="#000" stroke-width="1" />
<line x1="219.4" y1="657.66" x2="221.6" y2="657.66" stroke="#000" stroke-width="1" />
<line x1="219.4" y1="629.7" x2="221.6" y2="629.7" stroke="#000" stroke-width="1" />
<line x1="219.4" y1="601.74" x2="221.6" y2="601.74" stroke="#000" stroke-width="1" />
<line x1="219.8" y1="671.64" x2="221.6" y2="671.64" stroke="#000" stroke-width="0.9" />
<line x1="219.8" y1="643.68" x2="221.6" y2="643.68" stroke="#000" stroke-width="0.9" />
<line x1="219.8" y1="615.72" x2="221.6" y2="615.72" stroke="#000" stroke-width="0.9" />
<text x="203.1" y="605.7" style="font-family:'Liberation Serif',serif;font-size:11.8px;font-weight:normal" text-anchor="start" >1.4</text>
<text x="203.1" y="633.4" style="font-family:'Liberation Serif',serif;font-size:11.8px;font-weight:normal" text-anchor="start" >1.0</text>
<text x="203.1" y="661.1" style="font-family:'Liberation Serif',serif;font-size:11.8px;font-weight:normal" text-anchor="start" >0.6</text>
<text x="203.1" y="689.6" style="font-family:'Liberation Serif',serif;font-size:11.8px;font-weight:normal" text-anchor="start" >0.2</text>
<text x="208.2" y="703.8" style="font-family:'Liberation Serif',serif;font-size:11.8px;font-weight:normal" text-anchor="start" >0</text>
<line x1="221.6" y1="698.6" x2="221.6" y2="700.8" stroke="#000" stroke-width="1" />
<line x1="244.3" y1="698.6" x2="244.3" y2="700.8" stroke="#000" stroke-width="1" />
<line x1="267" y1="698.6" x2="267" y2="700.8" stroke="#000" stroke-width="1" />
<line x1="289.7" y1="698.6" x2="289.7" y2="700.8" stroke="#000" stroke-width="1" />
<line x1="312.4" y1="698.6" x2="312.4" y2="700.8" stroke="#000" stroke-width="1" />
<line x1="335.1" y1="698.6" x2="335.1" y2="700.8" stroke="#000" stroke-width="1" />
<text x="222.2" y="713.9" style="font-family:'Liberation Serif',serif;font-size:12.8px;font-weight:normal" text-anchor="middle" >0</text>
<text x="245.5" y="713.9" style="font-family:'Liberation Serif',serif;font-size:12.8px;font-weight:normal" text-anchor="middle" >1</text>
<text x="268.3" y="713.9" style="font-family:'Liberation Serif',serif;font-size:12.8px;font-weight:normal" text-anchor="middle" >2</text>
<text x="291.4" y="713.9" style="font-family:'Liberation Serif',serif;font-size:12.8px;font-weight:normal" text-anchor="middle" >3</text>
<text x="314.5" y="713.9" style="font-family:'Liberation Serif',serif;font-size:12.8px;font-weight:normal" text-anchor="middle" >4</text>
<text x="336.9" y="713.9" style="font-family:'Liberation Serif',serif;font-size:12.8px;font-weight:normal" text-anchor="middle" >5</text>
<polyline points="221.3,699.18 244,690.02 266.7,690.02 289.4,690.02 312.1,689.81 334.8,690.02" fill="none" stroke="#000" stroke-width="1.3" stroke-linejoin="round"/>
<polyline points="224,699.18 246.7,691.21 269.4,691.21 292.1,691.21 314.8,690.86 337.5,691.21" fill="none" stroke="#000" stroke-width="1.3" stroke-linejoin="round"/>
<polyline points="221.6,699.18 244.3,690.02 267,683.17 289.7,659.76 312.4,642.98 335.1,611.53" fill="none" stroke="#000" stroke-width="1.3" stroke-linejoin="round"/>
<polyline points="221.6,699.18 244.3,690.02 267,683.17 289.7,652.77 312.4,638.09 335.1,608.31" fill="none" stroke="#000" stroke-width="1.3" stroke-linejoin="round"/>
<line x1="312.4" y1="631.8" x2="312.4" y2="638.09" stroke="#000" stroke-width="1.1" />
<line x1="310.8" y1="631.8" x2="314" y2="631.8" stroke="#000" stroke-width="1.2" />
<rect x="241.3" y="687.32" width="5.4" height="5.4" fill="#fff" stroke="#000" stroke-width="1.2"/>
<rect x="264" y="687.32" width="5.4" height="5.4" fill="#fff" stroke="#000" stroke-width="1.2"/>
<rect x="286.7" y="687.32" width="5.4" height="5.4" fill="#fff" stroke="#000" stroke-width="1.2"/>
<rect x="309.4" y="687.11" width="5.4" height="5.4" fill="#fff" stroke="#000" stroke-width="1.2"/>
<rect x="332.1" y="687.32" width="5.4" height="5.4" fill="#fff" stroke="#000" stroke-width="1.2"/>
<polygon points="243.05,694.71 250.35,694.71 246.7,687.41" fill="#000"/>
<polygon points="265.75,694.71 273.05,694.71 269.4,687.41" fill="#000"/>
<polygon points="288.45,694.71 295.75,694.71 292.1,687.41" fill="#000"/>
<polygon points="311.15,694.36 318.45,694.36 314.8,687.06" fill="#000"/>
<polygon points="333.85,694.71 341.15,694.71 337.5,687.41" fill="#000"/>
<circle cx="244.3" cy="690.02" r="2.65" fill="#fff" stroke="#000" stroke-width="1.4"/>
<circle cx="267" cy="683.17" r="2.65" fill="#fff" stroke="#000" stroke-width="1.4"/>
<circle cx="289.7" cy="652.77" r="2.65" fill="#fff" stroke="#000" stroke-width="1.4"/>
<circle cx="312.4" cy="638.09" r="2.65" fill="#fff" stroke="#000" stroke-width="1.4"/>
<circle cx="335.1" cy="608.31" r="2.65" fill="#fff" stroke="#000" stroke-width="1.4"/>
<polygon points="286.1,656.26 293.3,656.26 289.7,663.56" fill="#000"/>
<polygon points="308.8,639.48 316,639.48 312.4,646.78" fill="#000"/>
<polygon points="331.5,608.03 338.7,608.03 335.1,615.33" fill="#000"/>
<circle cx="221.6" cy="699.18" r="2.65" fill="#fff" stroke="#000" stroke-width="1.4"/>
<text x="237.3" y="616.4" style="font-family:'Liberation Serif',serif;font-size:12.5px;font-weight:bold" text-anchor="start" >IFN-<tspan style="font-weight:normal">γ</tspan></text>
<rect x="368.5" y="612.5" width="114" height="75.7" fill="#fff" stroke="#000" stroke-width="1.1"/>
<rect x="382" y="620.8" width="7.2" height="7.2" fill="#fff" stroke="#000" stroke-width="1.3"/>
<polygon points="381.2,644 389.9,644 385.55,637.2" fill="#000"/>
<circle cx="385.6" cy="655.6" r="3.1" fill="#fff" stroke="#000" stroke-width="1.4"/>
<polygon points="380.8,665.2 390.6,665.2 385.7,674.4" fill="#000"/>
<text x="397.3" y="629.4" style="font-family:'Liberation Serif',serif;font-size:13.3px;font-weight:normal" text-anchor="start" >Nil</text>
<text x="397.3" y="644.4" style="font-family:'Liberation Serif',serif;font-size:13.3px;font-weight:normal" text-anchor="start" >uPA</text>
<text x="397.3" y="659.4" style="font-family:'Liberation Serif',serif;font-size:13.3px;font-weight:normal" text-anchor="start" >Stimulus</text>
<text x="397.3" y="674.4" style="font-family:'Liberation Serif',serif;font-size:13.3px;font-weight:normal" text-anchor="start" >Stimulus+uPA</text>
<text x="43.3" y="592.2" transform="rotate(-90 43.3 592.2)" style="font-family:'Liberation Serif',serif;font-size:13px;font-weight:bold" text-anchor="middle">RT Activity (cpm/<tspan style="font-style:italic">µ</tspan>l) x10<tspan dy="-4.5" style="font-size:9px">3</tspan></text>
<text x="280" y="731.5" style="font-family:'Liberation Serif',serif;font-size:13px;font-weight:bold" text-anchor="middle" >Days</text></svg></body></html>
